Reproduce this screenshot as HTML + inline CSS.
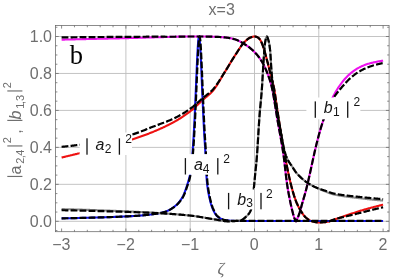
<!DOCTYPE html>
<html lang="en">
<head>
<meta charset="utf-8">
<title>x=3</title>
<style>
html,body{margin:0;padding:0;background:#ffffff;}
body{width:415px;height:279px;overflow:hidden;font-family:"Liberation Sans",sans-serif;}
svg{display:block;}
</style>
</head>
<body>
<svg width="415" height="279" viewBox="0 0 415 279">
<rect x="0" y="0" width="415" height="279" fill="#ffffff"/>
<defs><clipPath id="pc"><rect x="55.5" y="25.4" width="333.60" height="206.30"/></clipPath></defs>
<g stroke="#bdbdbd" stroke-width="0.9" fill="none">
<line x1="125.90" y1="25.4" x2="125.90" y2="231.7"/>
<line x1="190.20" y1="25.4" x2="190.20" y2="231.7"/>
<line x1="254.50" y1="25.4" x2="254.50" y2="231.7"/>
<line x1="318.80" y1="25.4" x2="318.80" y2="231.7"/>
<line x1="55.5" y1="221.30" x2="389.1" y2="221.30"/>
<line x1="55.5" y1="184.34" x2="389.1" y2="184.34"/>
<line x1="55.5" y1="147.38" x2="389.1" y2="147.38"/>
<line x1="55.5" y1="110.42" x2="389.1" y2="110.42"/>
<line x1="55.5" y1="73.46" x2="389.1" y2="73.46"/>
<line x1="55.5" y1="36.50" x2="389.1" y2="36.50"/>
</g>
<g clip-path="url(#pc)" fill="none" stroke-linejoin="round">
<path d="M61.60 157.54L62.31 157.37L63.03 157.20L63.74 157.03L64.45 156.86L65.16 156.69L65.88 156.52L66.59 156.35L67.30 156.18L68.02 156.01L68.73 155.84L69.44 155.67L70.15 155.50L70.87 155.33L71.58 155.15L72.29 154.98L73.01 154.81L73.72 154.64L74.43 154.46L75.14 154.29L75.86 154.12L76.57 153.94L77.28 153.77L78.00 153.59L78.71 153.42L79.42 153.25L79.60 153.20L80.13 153.07L80.85 152.90L81.56 152.72L82.27 152.55L82.99 152.37L83.70 152.20L84.41 152.02L85.12 151.85L85.84 151.67L86.55 151.50L87.26 151.32L87.98 151.15L88.69 150.97L89.40 150.80L90.11 150.62L90.83 150.45L91.54 150.27L92.25 150.09L92.97 149.92L93.68 149.74L94.39 149.56L95.10 149.39L95.82 149.21L96.53 149.03L97.24 148.85L97.96 148.67L98.67 148.49L99.38 148.31L100.09 148.13L100.81 147.95L101.52 147.77L102.23 147.59L102.95 147.40L103.66 147.22L104.37 147.04L105.08 146.85L105.80 146.67L106.51 146.48L106.61 146.46L107.22 146.30L107.94 146.11L108.65 145.93L109.36 145.74L110.07 145.56L110.79 145.37L111.50 145.19L112.21 145.00L112.93 144.82L113.64 144.63L114.35 144.45L115.06 144.26L115.78 144.08L116.49 143.89L117.20 143.70L117.92 143.52L118.63 143.33L119.34 143.14L120.05 142.95L120.77 142.76L121.48 142.56L122.19 142.37L122.91 142.17L123.62 141.97L124.33 141.77L125.04 141.57L125.76 141.37L126.47 141.16L127.18 140.96L127.90 140.75L128.61 140.54L129.32 140.32L130.03 140.11L130.75 139.89L131.46 139.67L131.62 139.62L132.17 139.45L132.89 139.22L133.60 138.99L134.31 138.76L135.02 138.53L135.74 138.29L136.45 138.05L137.16 137.82L137.88 137.57L138.59 137.33L139.30 137.08L140.01 136.83L140.73 136.58L141.44 136.33L142.15 136.07L142.87 135.81L143.58 135.55L144.29 135.29L145.00 135.02L145.72 134.75L146.43 134.48L147.14 134.21L147.86 133.94L148.57 133.66L149.28 133.38L149.99 133.10L150.71 132.81L151.42 132.53L152.13 132.24L152.85 131.95L153.29 131.76L153.56 131.65L154.27 131.36L154.98 131.06L155.70 130.76L156.41 130.46L157.12 130.15L157.84 129.84L158.55 129.53L159.26 129.22L159.97 128.90L160.69 128.58L161.40 128.26L162.11 127.94L162.83 127.61L163.54 127.27L164.25 126.94L164.96 126.60L165.68 126.26L166.39 125.91L167.10 125.56L167.82 125.21L168.53 124.85L169.24 124.49L169.95 124.12L170.67 123.75L171.38 123.38L172.09 123.00L172.81 122.62L173.52 122.23L174.23 121.84L174.94 121.44L175.03 121.40L175.66 121.04L176.37 120.63L177.08 120.22L177.80 119.79L178.51 119.37L179.22 118.93L179.93 118.49L180.65 118.04L181.36 117.58L182.07 117.12L182.79 116.65L183.50 116.17L184.21 115.69L184.92 115.20L185.64 114.70L186.35 114.20L187.06 113.68L187.78 113.16L188.49 112.64L189.20 112.10L189.91 111.56L190.20 111.34L190.63 111.01L191.34 110.44L192.05 109.85L192.77 109.24L193.48 108.62L194.19 107.99L194.90 107.34L195.62 106.68L196.33 106.02L197.04 105.35L197.76 104.67L198.47 104.00L199.18 103.32L199.89 102.64L200.61 101.97L201.32 101.30L202.03 100.64L202.75 99.99L203.06 99.70L203.46 99.34L204.17 98.72L204.88 98.12L205.60 97.53L206.31 96.94L207.02 96.35L207.74 95.76L208.45 95.15L209.16 94.53L209.87 93.89L210.59 93.22L211.30 92.52L212.01 91.78L212.70 91.02L212.73 90.99L213.44 90.15L214.15 89.24L214.86 88.28L215.58 87.26L216.29 86.20L217.00 85.10L217.72 83.96L218.43 82.80L219.14 81.61L219.85 80.40L220.57 79.19L221.28 77.96L221.99 76.74L222.71 75.52L223.42 74.32L224.13 73.13L224.85 71.96L225.18 71.43L225.56 70.82L226.27 69.67L226.98 68.50L227.70 67.32L228.41 66.14L229.12 64.95L229.84 63.77L230.55 62.59L231.26 61.41L231.97 60.24L232.69 59.09L233.40 57.96L234.11 56.84L234.83 55.75L235.21 55.16L235.54 54.67L236.25 53.58L236.96 52.48L237.68 51.37L238.39 50.26L239.10 49.15L239.82 48.07L240.53 47.01L241.24 45.99L241.95 45.00L242.67 44.07L243.38 43.20L244.09 42.39L244.81 41.65L245.18 41.30L245.52 40.99L246.23 40.36L246.94 39.75L247.66 39.17L248.37 38.65L249.08 38.18L249.80 37.78L250.51 37.47L250.64 37.42L251.22 37.22L251.93 36.98L252.65 36.77L253.36 36.61L254.07 36.52L254.50 36.50L254.79 36.51L255.50 36.61L256.21 36.81L256.92 37.08L257.64 37.39L257.71 37.42L258.35 37.82L259.06 38.49L259.78 39.33L260.29 40.01L260.49 40.31L261.20 41.63L261.91 43.26L262.60 45.00L262.63 45.07L263.34 47.08L264.05 49.35L264.77 51.82L265.48 54.44L266.19 57.14L266.90 59.87L267.62 62.55L267.62 62.56L268.33 65.26L269.04 68.04L269.76 70.87L270.47 73.74L271.18 76.60L271.41 77.53L271.89 79.40L272.61 82.09L273.32 84.95L273.92 87.69L274.03 88.26L274.75 92.35L275.46 97.05L276.17 102.09L276.88 107.15L277.60 111.94L277.65 112.27L278.31 116.47L279.02 120.99L279.74 125.50L280.45 129.96L281.16 134.36L281.87 138.68L282.59 142.90L283.30 146.99L284.01 150.93L284.14 151.63L284.73 154.75L285.44 158.54L286.15 162.26L286.86 165.92L287.58 169.48L288.29 172.93L289.00 176.25L289.72 179.43L290.43 182.45L291.09 185.08L291.14 185.29L291.85 188.00L292.57 190.61L293.28 193.11L293.99 195.48L294.71 197.68L295.42 199.71L295.97 201.16L296.13 201.55L296.84 203.23L297.56 204.81L298.27 206.28L298.98 207.66L299.70 208.95L300.41 210.17L300.80 210.80L301.12 211.33L301.83 212.46L302.55 213.55L303.26 214.58L303.97 215.53L304.69 216.38L305.40 217.11L305.62 217.31L306.11 217.73L306.82 218.31L307.54 218.86L308.25 219.37L308.96 219.84L309.68 220.27L310.39 220.64L311.10 220.96L311.81 221.21L312.11 221.30L312.53 221.41L313.24 221.60L313.95 221.78L314.67 221.94L315.38 222.09L316.09 222.21L316.80 222.31L317.52 222.37L318.23 222.41L318.48 222.41L318.94 222.41L319.66 222.40L320.37 222.38L321.08 222.35L321.79 222.32L322.51 222.28L323.22 222.24L323.93 222.19L324.65 222.14L325.36 222.08L325.87 222.04L326.07 222.02L326.78 221.93L327.50 221.80L328.21 221.63L328.92 221.44L329.64 221.22L330.35 220.98L331.06 220.72L331.77 220.45L332.49 220.18L333.20 219.90L333.91 219.63L334.63 219.36L335.34 219.11L335.97 218.90L336.05 218.87L336.76 218.64L337.48 218.40L338.19 218.17L338.90 217.93L339.62 217.69L340.33 217.45L341.04 217.20L341.75 216.96L342.47 216.72L343.18 216.47L343.89 216.23L344.61 215.98L345.32 215.74L346.03 215.50L346.74 215.26L347.46 215.02L348.17 214.78L348.57 214.65L348.88 214.54L349.60 214.31L350.31 214.07L351.02 213.83L351.73 213.60L352.45 213.36L353.16 213.12L353.87 212.89L354.59 212.65L355.30 212.42L356.01 212.18L356.72 211.95L357.44 211.72L358.15 211.50L358.86 211.27L359.58 211.05L360.29 210.83L361.00 210.61L361.11 210.58L361.71 210.40L362.43 210.19L363.14 209.98L363.85 209.78L364.57 209.57L365.28 209.37L365.99 209.17L366.70 208.97L367.42 208.77L368.13 208.58L368.84 208.38L369.56 208.19L370.27 207.99L370.98 207.80L371.69 207.61L372.41 207.42L373.12 207.23L373.71 207.07L373.83 207.04L374.55 206.85L375.26 206.66L375.97 206.47L376.68 206.29L377.40 206.10L378.11 205.92L378.82 205.74L379.54 205.56L380.25 205.38L380.96 205.20L381.67 205.02L382.39 204.84L383.10 204.67" stroke="#ee1111" stroke-width="2.1"/>
<path d="M61.60 218.34L61.89 218.34L62.18 218.33L62.48 218.33L62.77 218.32L63.06 218.32L63.35 218.31L63.64 218.31L63.94 218.30L64.23 218.30L64.52 218.29L64.81 218.29L65.10 218.28L65.40 218.28L65.69 218.27L65.98 218.27L66.27 218.26L66.56 218.26L66.86 218.25L67.15 218.25L67.44 218.24L67.73 218.23L68.02 218.23L68.32 218.22L68.61 218.22L68.90 218.21L69.19 218.21L69.48 218.20L69.78 218.19L70.07 218.19L70.36 218.18L70.65 218.18L70.94 218.17L71.24 218.16L71.53 218.16L71.82 218.15L72.11 218.15L72.40 218.14L72.70 218.13L72.99 218.13L73.28 218.12L73.57 218.11L73.86 218.11L74.16 218.10L74.45 218.10L74.74 218.09L75.03 218.08L75.32 218.08L75.62 218.07L75.91 218.06L76.20 218.06L76.49 218.05L76.78 218.04L77.08 218.04L77.37 218.03L77.66 218.02L77.95 218.02L78.24 218.01L78.54 218.00L78.83 217.99L79.12 217.99L79.41 217.98L79.70 217.97L80.00 217.97L80.29 217.96L80.58 217.95L80.87 217.95L81.16 217.94L81.46 217.93L81.75 217.92L82.04 217.92L82.33 217.91L82.62 217.90L82.92 217.89L83.21 217.89L83.50 217.88L83.79 217.87L84.08 217.86L84.38 217.86L84.67 217.85L84.96 217.84L85.25 217.83L85.54 217.83L85.84 217.82L86.13 217.81L86.42 217.80L86.71 217.80L87.00 217.79L87.30 217.78L87.59 217.77L87.88 217.77L88.17 217.76L88.46 217.75L88.76 217.74L89.05 217.73L89.34 217.73L89.63 217.72L89.92 217.71L90.22 217.70L90.51 217.69L90.80 217.69L91.09 217.68L91.38 217.67L91.68 217.66L91.97 217.65L92.26 217.65L92.55 217.64L92.84 217.63L93.14 217.62L93.43 217.61L93.72 217.60L93.75 217.60L94.01 217.60L94.30 217.59L94.60 217.58L94.89 217.57L95.18 217.56L95.47 217.55L95.76 217.55L96.06 217.54L96.35 217.53L96.64 217.52L96.93 217.51L97.22 217.50L97.52 217.50L97.81 217.49L98.10 217.48L98.39 217.47L98.68 217.46L98.98 217.45L99.27 217.44L99.56 217.43L99.85 217.42L100.14 217.42L100.44 217.41L100.73 217.40L101.02 217.39L101.31 217.38L101.60 217.37L101.90 217.36L102.19 217.35L102.48 217.34L102.77 217.33L103.06 217.32L103.36 217.31L103.65 217.30L103.94 217.30L104.23 217.29L104.52 217.28L104.82 217.27L105.11 217.26L105.40 217.25L105.69 217.24L105.98 217.23L106.28 217.22L106.57 217.21L106.86 217.20L107.15 217.19L107.44 217.18L107.74 217.17L108.03 217.16L108.32 217.15L108.61 217.14L108.90 217.13L109.20 217.12L109.49 217.11L109.78 217.10L110.07 217.09L110.36 217.07L110.66 217.06L110.95 217.05L111.24 217.04L111.53 217.03L111.82 217.02L112.12 217.01L112.41 217.00L112.70 216.99L112.99 216.98L113.28 216.97L113.58 216.96L113.87 216.94L114.16 216.93L114.45 216.92L114.74 216.91L115.04 216.90L115.33 216.89L115.62 216.88L115.91 216.87L116.20 216.85L116.50 216.84L116.79 216.83L117.08 216.82L117.37 216.81L117.66 216.79L117.96 216.78L118.25 216.77L118.54 216.76L118.83 216.75L119.12 216.73L119.42 216.72L119.71 216.71L120.00 216.70L120.29 216.68L120.58 216.67L120.88 216.66L121.17 216.65L121.46 216.63L121.75 216.62L122.04 216.61L122.34 216.60L122.63 216.58L122.92 216.57L123.21 216.56L123.50 216.54L123.80 216.53L124.09 216.52L124.38 216.50L124.67 216.49L124.96 216.48L125.25 216.46L125.55 216.45L125.84 216.44L126.13 216.42L126.42 216.41L126.54 216.40L126.71 216.39L127.01 216.38L127.30 216.37L127.59 216.35L127.88 216.34L128.17 216.32L128.47 216.31L128.76 216.29L129.05 216.28L129.34 216.26L129.63 216.25L129.92 216.23L130.22 216.22L130.51 216.20L130.80 216.18L131.09 216.17L131.38 216.15L131.68 216.13L131.97 216.12L132.26 216.10L132.55 216.08L132.84 216.07L133.13 216.05L133.43 216.03L133.72 216.01L134.01 216.00L134.30 215.98L134.59 215.96L134.88 215.94L135.18 215.92L135.47 215.90L135.76 215.88L136.05 215.86L136.34 215.84L136.63 215.82L136.93 215.80L137.22 215.78L137.51 215.76L137.80 215.74L138.09 215.72L138.38 215.70L138.67 215.68L138.97 215.65L139.26 215.63L139.55 215.61L139.84 215.59L140.03 215.57L140.13 215.56L140.42 215.54L140.71 215.52L141.01 215.49L141.30 215.47L141.59 215.44L141.88 215.42L142.17 215.39L142.46 215.37L142.75 215.34L143.05 215.31L143.34 215.29L143.63 215.26L143.92 215.23L144.21 215.21L144.50 215.18L144.79 215.15L145.08 215.12L145.37 215.09L145.67 215.06L145.96 215.03L146.25 215.00L146.54 214.97L146.83 214.94L147.12 214.91L147.41 214.88L147.70 214.84L147.99 214.81L148.28 214.78L148.57 214.74L148.86 214.71L149.16 214.68L149.45 214.64L149.74 214.61L150.03 214.57L150.32 214.54L150.61 214.50L150.90 214.46L151.19 214.43L151.48 214.39L151.77 214.35L152.06 214.31L152.35 214.27L152.64 214.23L152.93 214.20L153.22 214.16L153.51 214.11L153.80 214.07L154.09 214.03L154.38 213.99L154.67 213.95L154.95 213.91L154.96 213.91L155.25 213.86L155.54 213.82L155.83 213.78L156.12 213.73L156.41 213.69L156.70 213.64L156.99 213.59L157.28 213.55L157.57 213.50L157.86 213.45L158.15 213.40L158.44 213.35L158.73 213.30L159.02 213.25L159.31 213.19L159.60 213.14L159.89 213.08L160.18 213.02L160.46 212.96L160.75 212.90L161.04 212.84L161.33 212.78L161.62 212.71L161.91 212.65L162.20 212.58L162.49 212.51L162.78 212.44L163.07 212.36L163.36 212.29L163.64 212.21L163.93 212.13L164.22 212.05L164.51 211.97L164.80 211.88L164.82 211.88L165.09 211.79L165.38 211.70L165.66 211.60L165.95 211.50L166.24 211.39L166.53 211.27L166.82 211.15L167.11 211.03L167.40 210.90L167.68 210.77L167.97 210.63L168.26 210.49L168.55 210.35L168.84 210.20L169.13 210.04L169.41 209.88L169.70 209.72L169.99 209.56L170.28 209.39L170.57 209.21L170.85 209.04L171.14 208.85L171.43 208.67L171.72 208.48L172.01 208.29L172.29 208.10L172.58 207.90L172.87 207.70L173.16 207.49L173.44 207.28L173.73 207.07L174.02 206.86L174.31 206.65L174.60 206.43L174.72 206.33L174.88 206.20L175.17 205.98L175.46 205.74L175.75 205.50L176.03 205.25L176.32 204.99L176.61 204.72L176.90 204.44L177.19 204.16L177.47 203.87L177.76 203.57L178.05 203.26L178.34 202.94L178.62 202.61L178.91 202.27L179.20 201.92L179.49 201.56L179.78 201.19L180.06 200.81L180.35 200.42L180.64 200.02L180.93 199.61L181.22 199.18L181.50 198.75L181.79 198.30L182.08 197.84L182.20 197.65L182.37 197.36L182.66 196.85L182.94 196.30L183.23 195.71L183.52 195.08L183.81 194.43L184.10 193.74L184.38 193.03L184.67 192.28L184.96 191.52L185.25 190.73L185.54 189.92L185.83 189.09L186.12 188.24L186.40 187.38L186.69 186.50L186.98 185.61L187.15 185.08L187.27 184.71L187.56 183.83L187.85 182.94L188.14 182.04L188.43 181.10L188.71 180.13L189.00 179.10L189.29 177.99L189.58 176.80L189.87 175.51L190.16 174.10L190.45 172.57L190.65 171.40L190.74 170.87L191.03 168.78L191.32 166.25L191.61 163.35L191.90 160.14L192.19 156.69L192.48 153.05L192.77 149.29L192.95 146.89L193.06 145.40L193.35 140.86L193.56 137.36L193.64 136.00L193.93 130.88L194.17 126.50L194.22 125.47L194.51 119.73L194.77 114.29L194.80 113.71L195.09 107.38L195.38 100.83L195.38 100.82L195.67 94.03L195.97 87.11L195.99 86.49L196.26 80.13L196.55 73.18L196.60 71.95L196.84 66.42L197.13 59.93L197.21 58.27L197.42 53.97L197.71 48.55L197.82 46.85L198.01 44.07L198.30 40.33L198.43 39.20L198.59 38.18L198.88 36.76L199.04 36.50L199.17 36.68L199.46 38.07L199.65 39.31L199.76 40.18L200.05 43.93L200.26 47.24L200.34 48.50L200.63 54.01L200.88 59.02L200.93 60.11L201.22 66.73L201.49 73.07L201.51 73.65L201.80 80.73L202.10 87.86L202.10 87.92L202.39 94.90L202.68 101.79L202.71 102.47L202.98 108.44L203.27 114.85L203.33 116.04L203.56 120.93L203.86 126.71L203.94 128.29L204.15 132.16L204.44 137.29L204.55 139.14L204.74 141.99L205.03 146.38L205.17 148.61L205.33 151.47L205.62 157.68L205.91 164.40L206.21 170.94L206.50 176.61L206.79 180.64L206.80 180.73L207.09 183.65L207.38 186.16L207.68 188.31L207.97 190.20L208.27 191.89L208.41 192.66L208.56 193.47L208.86 194.98L209.15 196.42L209.45 197.80L209.74 199.12L210.04 200.37L210.33 201.56L210.63 202.68L210.92 203.73L211.22 204.72L211.51 205.64L211.81 206.49L212.10 207.28L212.24 207.62L212.40 208.00L212.69 208.71L212.99 209.39L213.29 210.06L213.58 210.70L213.88 211.32L214.17 211.91L214.47 212.49L214.76 213.03L215.06 213.54L215.36 214.03L215.65 214.48L215.95 214.91L216.24 215.29L216.54 215.65L216.84 215.96L217.13 216.24L217.32 216.40L217.43 216.49L217.72 216.71L218.02 216.94L218.32 217.15L218.61 217.36L218.91 217.57L219.20 217.76L219.50 217.95L219.80 218.14L220.09 218.31L220.39 218.48L220.69 218.64L220.98 218.80L221.28 218.95L221.57 219.09L221.87 219.22L222.17 219.34L222.46 219.46L222.76 219.57L223.06 219.67L223.35 219.76L223.65 219.84L223.94 219.92L224.24 219.98L224.54 220.04L224.83 220.09L224.89 220.10L225.13 220.13L225.43 220.18L225.72 220.22L226.02 220.26L226.31 220.30L226.61 220.33L226.91 220.37L227.20 220.41L227.50 220.44L227.79 220.48L228.09 220.51L228.39 220.54L228.68 220.58L228.98 220.61L229.27 220.64L229.57 220.66L229.87 220.69L230.16 220.72L230.46 220.74L230.75 220.76L231.05 220.78L231.34 220.80L231.64 220.82L231.94 220.84L232.23 220.86L232.53 220.87L232.82 220.88L233.12 220.89L233.41 220.90L233.71 220.91L234.00 220.92L234.30 220.92L234.60 220.93L234.89 220.93L235.05 220.93L235.19 220.93L235.48 220.93L235.78 220.93L236.07 220.93L236.37 220.93L236.66 220.93L236.96 220.93L237.25 220.93L237.55 220.93L237.84 220.93L238.14 220.93L238.43 220.93L238.73 220.93L239.02 220.93L239.31 220.93L239.61 220.93L239.90 220.93L240.20 220.93L240.49 220.93L240.79 220.93L241.08 220.93L241.38 220.93L241.67 220.93L241.97 220.93L242.26 220.93L242.55 220.93L242.85 220.93L243.14 220.93L243.44 220.93L243.73 220.93L244.02 220.93L244.32 220.93L244.61 220.93L244.91 220.93L245.20 220.93L245.49 220.93L245.79 220.93L246.08 220.93L246.38 220.93L246.67 220.93L246.96 220.93L247.26 220.93L247.55 220.93L247.84 220.93L248.14 220.93L248.43 220.93L248.72 220.93L249.02 220.93L249.31 220.93L249.60 220.93L249.90 220.93L250.19 220.93L250.48 220.93L250.78 220.93L251.07 220.93L251.36 220.93L251.66 220.93L251.95 220.93L252.24 220.93L252.54 220.93L252.83 220.93L253.12 220.93L253.42 220.93L253.71 220.93L254.00 220.93L254.29 220.93L254.59 220.93L254.88 220.93L255.17 220.93L255.47 220.93L255.76 220.93L256.05 220.93L256.34 220.93L256.64 220.93L256.93 220.93L257.22 220.93L257.52 220.93L257.81 220.93L258.10 220.93L258.39 220.93L258.69 220.93L258.98 220.93L259.27 220.93L259.56 220.93L259.86 220.93L260.15 220.93L260.44 220.93L260.73 220.93L261.03 220.93L261.32 220.93L261.61 220.93L261.90 220.93L262.20 220.93L262.49 220.93L262.78 220.93L263.07 220.93L263.37 220.93L263.66 220.93L263.95 220.93L264.24 220.93L264.54 220.93L264.83 220.93L265.12 220.93L265.41 220.93L265.71 220.93L266.00 220.93L266.29 220.93L266.58 220.93L266.87 220.93L267.17 220.93L267.46 220.93L267.75 220.93L268.04 220.93L268.34 220.93L268.63 220.93L268.92 220.93L269.21 220.93L269.50 220.93L269.80 220.93L270.09 220.93L270.38 220.93L270.67 220.93L270.97 220.93L271.26 220.93L271.55 220.93L271.84 220.93L272.13 220.93L272.43 220.93L272.72 220.93L273.01 220.93L273.30 220.93L273.59 220.93L273.89 220.93L274.18 220.93L274.47 220.93L274.76 220.93L275.06 220.93L275.35 220.93L275.64 220.93L275.93 220.93L276.22 220.93L276.52 220.93L276.81 220.93L277.10 220.93L277.39 220.93L277.68 220.93L277.98 220.93L278.27 220.93L278.56 220.93L278.85 220.93L279.14 220.93L279.44 220.93L279.73 220.93L280.02 220.93L280.31 220.93L280.60 220.93L280.90 220.93L281.19 220.93L281.48 220.93L281.77 220.93L282.06 220.93L282.36 220.93L282.65 220.93L282.94 220.93L283.23 220.93L283.52 220.93L283.82 220.93L284.11 220.93L284.40 220.93L284.69 220.93L284.99 220.93L285.28 220.93L285.57 220.93L285.86 220.93L286.15 220.93L286.45 220.93L286.65 220.93L286.74 220.93L287.03 220.93L287.32 220.93L287.61 220.93L287.91 220.93L288.20 220.93L288.49 220.93L288.78 220.93L289.07 220.93L289.37 220.93L289.66 220.93L289.95 220.93L290.24 220.93L290.53 220.93L290.83 220.93L291.12 220.93L291.41 220.93L291.70 220.93L291.99 220.93L292.29 220.93L292.58 220.93L292.87 220.93L293.16 220.93L293.45 220.93L293.75 220.93L294.04 220.93L294.33 220.93L294.62 220.93L294.91 220.93L295.21 220.93L295.50 220.93L295.79 220.93L296.08 220.93L296.37 220.93L296.67 220.93L296.96 220.93L297.25 220.93L297.54 220.93L297.83 220.93L298.13 220.93L298.42 220.93L298.71 220.93L299.00 220.93L299.29 220.93L299.59 220.93L299.88 220.93L300.17 220.93L300.46 220.93L300.75 220.93L301.05 220.93L301.34 220.93L301.63 220.93L301.92 220.93L302.21 220.93L302.51 220.93L302.80 220.93L303.09 220.93L303.38 220.93L303.67 220.93L303.97 220.93L304.26 220.93L304.55 220.93L304.84 220.93L305.13 220.93L305.43 220.93L305.72 220.93L306.01 220.93L306.30 220.93L306.59 220.93L306.89 220.93L307.18 220.93L307.47 220.93L307.76 220.93L308.05 220.93L308.35 220.93L308.64 220.93L308.93 220.93L309.22 220.93L309.51 220.93L309.81 220.93L310.10 220.93L310.39 220.93L310.68 220.93L310.97 220.93L311.27 220.93L311.56 220.93L311.85 220.93L312.14 220.93L312.43 220.93L312.73 220.93L313.02 220.93L313.31 220.93L313.60 220.93L313.89 220.93L314.19 220.93L314.48 220.93L314.77 220.93L315.06 220.93L315.35 220.93L315.65 220.93L315.94 220.93L316.23 220.93L316.52 220.93L316.81 220.93L317.11 220.93L317.40 220.93L317.69 220.93L317.98 220.93L318.27 220.93L318.57 220.93L318.86 220.93L319.15 220.93L319.44 220.93L319.73 220.93L320.03 220.93L320.32 220.93L320.61 220.93L320.90 220.93L321.19 220.93L321.49 220.93L321.78 220.93L322.07 220.93L322.36 220.93L322.65 220.93L322.95 220.93L323.24 220.93L323.53 220.93L323.82 220.93L324.11 220.93L324.41 220.93L324.70 220.93L324.99 220.93L325.28 220.93L325.57 220.93L325.87 220.93L326.16 220.93L326.45 220.93L326.74 220.93L327.03 220.93L327.33 220.93L327.62 220.93L327.91 220.93L328.20 220.93L328.49 220.93L328.79 220.93L329.08 220.93L329.37 220.93L329.66 220.93L329.95 220.93L330.25 220.93L330.54 220.93L330.83 220.93L331.12 220.93L331.41 220.93L331.71 220.93L332.00 220.93L332.29 220.93L332.58 220.93L332.87 220.93L333.17 220.93L333.46 220.93L333.75 220.93L334.04 220.93L334.33 220.93L334.63 220.93L334.92 220.93L335.21 220.93L335.50 220.93L335.79 220.93L336.09 220.93L336.38 220.93L336.67 220.93L336.96 220.93L337.25 220.93L337.55 220.93L337.84 220.93L338.13 220.93L338.42 220.93L338.71 220.93L339.01 220.93L339.30 220.93L339.59 220.93L339.88 220.93L340.17 220.93L340.47 220.93L340.76 220.93L341.05 220.93L341.34 220.93L341.63 220.93L341.93 220.93L342.22 220.93L342.51 220.93L342.80 220.93L343.10 220.93L343.39 220.93L343.68 220.93L343.97 220.93L344.26 220.93L344.56 220.93L344.85 220.93L345.14 220.93L345.43 220.93L345.72 220.93L346.02 220.93L346.31 220.93L346.60 220.93L346.89 220.93L347.18 220.93L347.48 220.93L347.77 220.93L348.06 220.93L348.35 220.93L348.64 220.93L348.94 220.93L349.23 220.93L349.52 220.93L349.81 220.93L350.10 220.93L350.40 220.93L350.69 220.93L350.98 220.93L351.27 220.93L351.56 220.93L351.86 220.93L352.15 220.93L352.44 220.93L352.73 220.93L353.02 220.93L353.32 220.93L353.61 220.93L353.90 220.93L354.19 220.93L354.48 220.93L354.78 220.93L355.07 220.93L355.36 220.93L355.65 220.93L355.94 220.93L356.24 220.93L356.53 220.93L356.82 220.93L357.11 220.93L357.40 220.93L357.70 220.93L357.99 220.93L358.28 220.93L358.57 220.93L358.86 220.93L359.16 220.93L359.45 220.93L359.74 220.93L360.03 220.93L360.32 220.93L360.62 220.93L360.91 220.93L361.20 220.93L361.49 220.93L361.78 220.93L362.08 220.93L362.37 220.93L362.66 220.93L362.95 220.93L363.24 220.93L363.54 220.93L363.83 220.93L364.12 220.93L364.41 220.93L364.70 220.93L365.00 220.93L365.29 220.93L365.58 220.93L365.87 220.93L366.16 220.93L366.46 220.93L366.75 220.93L367.04 220.93L367.33 220.93L367.62 220.93L367.92 220.93L368.21 220.93L368.50 220.93L368.79 220.93L369.08 220.93L369.38 220.93L369.67 220.93L369.96 220.93L370.25 220.93L370.54 220.93L370.84 220.93L371.13 220.93L371.42 220.93L371.71 220.93L372.00 220.93L372.30 220.93L372.59 220.93L372.88 220.93L373.17 220.93L373.46 220.93L373.76 220.93L374.05 220.93L374.34 220.93L374.63 220.93L374.92 220.93L375.22 220.93L375.51 220.93L375.80 220.93L376.09 220.93L376.38 220.93L376.68 220.93L376.97 220.93L377.26 220.93L377.55 220.93L377.84 220.93L378.14 220.93L378.43 220.93L378.72 220.93L379.01 220.93L379.30 220.93L379.60 220.93L379.89 220.93L380.18 220.93L380.47 220.93L380.76 220.93L381.06 220.93L381.35 220.93L381.64 220.93L381.93 220.93L382.22 220.93L382.52 220.93L382.81 220.93L383.10 220.93" stroke="#1111ee" stroke-width="2.1"/>
<path d="M61.60 39.64L62.31 39.63L63.02 39.61L63.74 39.59L64.45 39.58L65.16 39.56L65.87 39.54L66.59 39.53L67.30 39.51L68.01 39.49L68.72 39.48L69.44 39.46L70.15 39.45L70.86 39.43L71.57 39.41L72.29 39.40L73.00 39.38L73.71 39.36L74.42 39.35L75.14 39.33L75.85 39.31L76.56 39.30L77.27 39.28L77.99 39.26L78.70 39.25L79.41 39.23L80.12 39.22L80.84 39.20L81.55 39.18L82.26 39.17L82.97 39.15L83.69 39.13L84.40 39.12L85.11 39.10L85.82 39.08L86.54 39.07L87.25 39.05L87.96 39.04L88.67 39.02L89.39 39.00L90.10 38.99L90.81 38.97L91.52 38.95L92.24 38.94L92.95 38.92L93.66 38.90L93.75 38.90L94.37 38.89L95.09 38.87L95.80 38.86L96.51 38.84L97.22 38.82L97.94 38.81L98.65 38.79L99.36 38.78L100.07 38.76L100.79 38.74L101.50 38.73L102.21 38.71L102.92 38.70L103.64 38.68L104.35 38.66L105.06 38.65L105.77 38.63L106.48 38.62L107.20 38.60L107.91 38.59L108.62 38.57L109.33 38.55L110.05 38.54L110.76 38.52L111.47 38.51L112.18 38.49L112.90 38.47L113.61 38.46L114.32 38.44L115.03 38.43L115.75 38.41L116.46 38.39L117.17 38.38L117.88 38.36L118.60 38.34L119.31 38.33L120.02 38.31L120.73 38.29L121.45 38.27L122.16 38.26L122.87 38.24L123.58 38.22L124.30 38.20L125.01 38.19L125.72 38.17L125.90 38.16L126.43 38.15L127.15 38.13L127.86 38.11L128.57 38.09L129.28 38.07L130.00 38.05L130.71 38.03L131.42 38.01L132.13 37.99L132.85 37.97L133.56 37.95L134.27 37.93L134.98 37.91L135.70 37.89L136.41 37.87L137.12 37.85L137.83 37.83L138.55 37.80L139.26 37.78L139.97 37.76L140.68 37.74L141.40 37.72L142.11 37.70L142.82 37.68L143.53 37.65L144.25 37.63L144.96 37.61L145.67 37.59L146.38 37.57L147.10 37.55L147.81 37.53L148.52 37.50L149.23 37.48L149.94 37.46L150.66 37.44L151.37 37.42L152.08 37.40L152.79 37.38L153.51 37.36L154.22 37.34L154.93 37.32L155.64 37.30L156.36 37.28L157.07 37.26L157.78 37.25L158.05 37.24L158.49 37.23L159.21 37.21L159.92 37.19L160.63 37.17L161.34 37.15L162.06 37.13L162.77 37.11L163.48 37.09L164.19 37.07L164.91 37.04L165.62 37.02L166.33 37.00L167.04 36.98L167.76 36.96L168.47 36.94L169.18 36.91L169.89 36.89L170.61 36.87L171.32 36.85L172.03 36.83L172.74 36.81L173.46 36.79L174.17 36.77L174.88 36.75L175.59 36.73L176.31 36.71L177.02 36.69L177.73 36.67L178.44 36.65L179.16 36.64L179.87 36.62L180.58 36.61L181.29 36.59L182.01 36.58L182.72 36.57L183.43 36.56L184.14 36.55L184.86 36.54L185.57 36.53L186.28 36.52L186.99 36.51L187.71 36.51L188.42 36.50L189.13 36.50L189.84 36.50L190.20 36.50L190.56 36.50L191.27 36.50L191.98 36.50L192.69 36.50L193.41 36.50L194.12 36.50L194.83 36.50L195.54 36.50L196.25 36.50L196.97 36.50L197.68 36.50L198.39 36.50L199.10 36.50L199.82 36.50L200.53 36.50L201.24 36.50L201.95 36.50L202.67 36.50L203.06 36.50L203.38 36.50L204.09 36.50L204.80 36.51L205.52 36.52L206.23 36.53L206.94 36.54L207.65 36.55L208.37 36.57L209.08 36.59L209.79 36.60L210.50 36.62L211.22 36.64L211.93 36.66L212.64 36.68L212.70 36.68L213.35 36.70L214.07 36.73L214.78 36.75L215.49 36.78L216.20 36.82L216.92 36.85L217.63 36.89L218.34 36.93L219.05 36.97L219.77 37.01L220.48 37.06L221.19 37.11L221.90 37.16L222.62 37.22L223.33 37.28L224.04 37.34L224.75 37.40L224.99 37.42L225.47 37.47L226.18 37.55L226.89 37.64L227.60 37.74L228.32 37.85L229.03 37.98L229.74 38.11L230.45 38.25L231.17 38.40L231.88 38.56L232.59 38.73L233.30 38.90L234.02 39.09L234.70 39.27L234.73 39.28L235.44 39.50L236.15 39.74L236.87 40.02L237.58 40.32L238.29 40.65L239.00 40.99L239.71 41.36L240.43 41.75L241.14 42.14L241.85 42.55L242.56 42.97L243.28 43.40L243.99 43.83L244.40 44.08L244.70 44.26L245.41 44.70L246.13 45.16L246.84 45.63L247.55 46.13L248.26 46.64L248.98 47.17L249.69 47.71L250.40 48.28L251.11 48.87L251.83 49.48L252.54 50.11L253.25 50.77L253.96 51.45L253.99 51.47L254.68 52.16L255.39 52.90L256.10 53.69L256.81 54.51L257.53 55.38L258.24 56.28L258.95 57.23L259.66 58.21L260.38 59.25L261.09 60.32L261.80 61.45L262.09 61.91L262.51 62.63L263.23 63.91L263.94 65.31L264.65 66.79L265.36 68.36L266.08 70.01L266.79 71.73L267.30 73.00L267.50 73.52L268.21 75.36L268.93 77.31L269.64 79.40L270.35 81.67L271.06 84.16L271.41 85.47L271.78 86.95L272.49 90.23L273.20 93.94L273.91 97.98L274.63 102.26L275.34 106.69L276.05 111.17L276.76 115.62L277.48 119.93L277.91 122.43L278.19 124.03L278.90 127.95L279.61 131.78L280.33 135.61L281.04 139.51L281.75 143.57L282.46 147.86L283.17 152.47L283.24 152.92L283.89 157.71L284.60 163.68L285.31 169.96L286.02 176.14L286.74 181.80L287.10 184.34L287.45 186.59L288.16 190.84L288.87 194.75L289.48 197.90L289.59 198.46L290.30 202.01L291.01 205.36L291.72 208.46L291.90 209.20L292.44 211.35L293.15 214.12L293.86 216.58L294.40 218.10L294.57 218.54L295.29 220.10L296.00 221.30L296.71 219.99L297.43 218.47L298.14 216.77L298.85 214.91L299.19 214.00L299.57 212.88L300.28 210.50L301.00 207.89L301.71 205.22L302.40 202.71L302.42 202.64L303.14 200.19L303.85 197.78L304.57 195.35L305.28 192.82L305.60 191.65L305.99 190.16L306.71 187.36L307.42 184.46L308.14 181.46L308.17 181.32L308.85 178.34L309.56 175.10L310.28 171.80L310.74 169.67L310.99 168.53L311.71 165.23L312.42 161.92L313.13 158.66L313.32 157.85L313.85 155.47L314.56 152.31L315.28 149.21L315.89 146.64L315.99 146.21L316.70 143.29L317.42 140.45L318.13 137.70L318.46 136.46L318.85 135.04L319.56 132.46L320.27 129.97L320.99 127.55L321.03 127.41L321.70 125.22L322.42 122.96L323.13 120.78L323.60 119.36L323.84 118.66L324.56 116.61L325.27 114.63L325.98 112.71L326.18 112.21L326.70 110.85L327.41 109.05L328.13 107.31L328.75 105.84L328.84 105.62L329.55 103.99L330.27 102.40L330.98 100.87L331.32 100.16L331.70 99.38L332.41 97.94L333.12 96.55L333.84 95.19L333.89 95.10L334.55 93.88L335.27 92.61L335.98 91.38L336.46 90.57L336.69 90.19L337.41 89.03L338.12 87.91L338.84 86.82L339.04 86.53L339.55 85.77L340.26 84.75L340.98 83.77L341.61 82.93L341.69 82.81L342.41 81.89L343.12 81.00L343.83 80.14L344.18 79.73L344.55 79.30L345.26 78.50L345.98 77.72L346.69 76.97L346.75 76.90L347.40 76.24L348.12 75.54L348.83 74.87L349.32 74.42L349.54 74.22L350.26 73.59L350.97 72.99L351.69 72.41L351.90 72.24L352.40 71.85L353.11 71.31L353.83 70.79L354.47 70.35L354.54 70.30L355.26 69.82L355.97 69.36L356.68 68.92L357.04 68.70L357.40 68.49L358.11 68.09L358.83 67.69L359.54 67.32L359.61 67.28L360.25 66.96L360.97 66.62L361.68 66.28L362.18 66.06L362.40 65.97L363.11 65.66L363.82 65.37L364.54 65.09L364.76 65.01L365.25 64.83L365.97 64.57L366.68 64.33L367.33 64.11L367.39 64.09L368.11 63.87L368.82 63.65L369.54 63.44L369.90 63.34L370.25 63.25L370.96 63.05L371.68 62.87L372.39 62.70L372.47 62.68L373.10 62.53L373.82 62.36L374.53 62.21L375.04 62.10L375.25 62.05L375.96 61.91L376.67 61.77L377.39 61.63L377.62 61.59L378.10 61.49L378.82 61.36L379.53 61.24L380.19 61.12L380.24 61.11L380.96 60.99L381.67 60.87L382.39 60.76L382.76 60.70L383.10 60.64" stroke="#ee11ee" stroke-width="2.1"/>
<path d="M61.60 209.10L61.89 209.11L62.18 209.12L62.48 209.12L62.77 209.13L63.06 209.14L63.35 209.14L63.64 209.15L63.94 209.16L64.23 209.17L64.52 209.17L64.81 209.18L65.10 209.19L65.40 209.19L65.69 209.20L65.98 209.21L66.27 209.22L66.56 209.22L66.86 209.23L67.15 209.24L67.44 209.25L67.73 209.25L68.02 209.26L68.32 209.27L68.61 209.28L68.90 209.28L69.19 209.29L69.48 209.30L69.78 209.31L70.07 209.31L70.36 209.32L70.65 209.33L70.94 209.34L71.24 209.35L71.53 209.35L71.82 209.36L72.11 209.37L72.40 209.38L72.70 209.39L72.99 209.39L73.28 209.40L73.57 209.41L73.86 209.42L74.16 209.43L74.45 209.44L74.74 209.44L75.03 209.45L75.32 209.46L75.62 209.47L75.91 209.48L76.20 209.49L76.49 209.49L76.78 209.50L77.08 209.51L77.37 209.52L77.66 209.53L77.95 209.54L78.24 209.55L78.54 209.56L78.83 209.56L79.12 209.57L79.41 209.58L79.70 209.59L80.00 209.60L80.29 209.61L80.58 209.62L80.87 209.63L81.16 209.64L81.46 209.65L81.75 209.65L82.04 209.66L82.33 209.67L82.62 209.68L82.92 209.69L83.21 209.70L83.50 209.71L83.79 209.72L84.08 209.73L84.38 209.74L84.67 209.75L84.96 209.76L85.25 209.77L85.54 209.78L85.84 209.79L86.13 209.80L86.42 209.81L86.71 209.82L87.00 209.82L87.30 209.83L87.59 209.84L87.88 209.85L88.17 209.86L88.46 209.87L88.76 209.88L89.05 209.89L89.34 209.90L89.63 209.91L89.92 209.92L90.22 209.93L90.51 209.94L90.80 209.95L91.09 209.96L91.38 209.97L91.68 209.98L91.97 209.99L92.26 210.00L92.55 210.01L92.84 210.02L93.14 210.03L93.43 210.05L93.72 210.06L94.01 210.07L94.30 210.08L94.60 210.09L94.89 210.10L95.18 210.11L95.47 210.12L95.76 210.13L96.06 210.14L96.35 210.15L96.64 210.16L96.93 210.17L97.22 210.18L97.52 210.19L97.81 210.20L98.10 210.21L98.39 210.22L98.68 210.23L98.98 210.25L99.27 210.26L99.56 210.27L99.85 210.28L100.14 210.29L100.44 210.30L100.73 210.31L101.02 210.32L101.31 210.33L101.60 210.34L101.90 210.35L102.19 210.37L102.48 210.38L102.77 210.39L103.07 210.40L103.36 210.41L103.65 210.42L103.94 210.43L104.23 210.44L104.53 210.45L104.82 210.47L105.11 210.48L105.40 210.49L105.69 210.50L105.99 210.51L106.28 210.52L106.57 210.53L106.86 210.54L107.15 210.56L107.45 210.57L107.74 210.58L108.03 210.59L108.32 210.60L108.61 210.61L108.91 210.62L109.20 210.64L109.49 210.65L109.78 210.66L110.07 210.67L110.37 210.68L110.66 210.69L110.95 210.71L111.24 210.72L111.53 210.73L111.83 210.74L112.12 210.75L112.41 210.76L112.70 210.78L112.99 210.79L113.29 210.80L113.58 210.81L113.87 210.82L114.16 210.83L114.45 210.85L114.75 210.86L115.04 210.87L115.33 210.88L115.62 210.89L115.91 210.91L116.21 210.92L116.50 210.93L116.79 210.94L117.08 210.95L117.37 210.97L117.67 210.98L117.96 210.99L118.25 211.00L118.54 211.01L118.83 211.03L119.13 211.04L119.42 211.05L119.71 211.06L120.00 211.07L120.29 211.09L120.59 211.10L120.88 211.11L121.17 211.12L121.46 211.13L121.75 211.15L122.05 211.16L122.34 211.17L122.63 211.18L122.92 211.20L123.21 211.21L123.51 211.22L123.80 211.23L124.09 211.24L124.38 211.26L124.67 211.27L124.97 211.28L125.26 211.29L125.55 211.31L125.84 211.32L125.90 211.32L126.13 211.33L126.43 211.34L126.72 211.36L127.01 211.37L127.30 211.38L127.59 211.39L127.89 211.41L128.18 211.42L128.47 211.43L128.76 211.44L129.05 211.46L129.35 211.47L129.64 211.48L129.93 211.50L130.22 211.51L130.51 211.52L130.81 211.53L131.10 211.55L131.39 211.56L131.68 211.57L131.97 211.59L132.27 211.60L132.56 211.61L132.85 211.63L133.14 211.64L133.43 211.65L133.73 211.67L134.02 211.68L134.31 211.69L134.60 211.71L134.89 211.72L135.19 211.74L135.48 211.75L135.77 211.76L136.06 211.78L136.35 211.79L136.65 211.81L136.94 211.82L137.23 211.83L137.52 211.85L137.81 211.86L138.11 211.88L138.40 211.89L138.69 211.90L138.98 211.92L139.27 211.93L139.57 211.95L139.86 211.96L140.15 211.98L140.44 211.99L140.73 212.01L141.03 212.02L141.32 212.04L141.61 212.05L141.90 212.07L142.19 212.08L142.49 212.10L142.78 212.11L143.07 212.13L143.36 212.14L143.65 212.16L143.95 212.17L144.24 212.19L144.53 212.20L144.82 212.22L145.11 212.23L145.41 212.25L145.70 212.26L145.99 212.28L146.28 212.30L146.57 212.31L146.87 212.33L147.16 212.34L147.45 212.36L147.74 212.38L148.03 212.39L148.33 212.41L148.62 212.42L148.91 212.44L149.20 212.46L149.49 212.47L149.79 212.49L150.08 212.51L150.37 212.52L150.66 212.54L150.95 212.56L151.25 212.57L151.54 212.59L151.83 212.61L152.12 212.62L152.41 212.64L152.71 212.66L153.00 212.68L153.29 212.69L153.58 212.71L153.87 212.73L154.17 212.75L154.46 212.76L154.75 212.78L155.04 212.80L155.33 212.82L155.63 212.83L155.92 212.85L156.21 212.87L156.50 212.89L156.79 212.91L157.09 212.92L157.38 212.94L157.67 212.96L157.96 212.98L158.05 212.98L158.25 213.00L158.55 213.02L158.84 213.03L159.13 213.05L159.42 213.07L159.71 213.09L160.01 213.11L160.30 213.13L160.59 213.15L160.88 213.16L161.17 213.18L161.47 213.20L161.76 213.22L162.05 213.24L162.34 213.26L162.63 213.28L162.93 213.30L163.22 213.32L163.51 213.34L163.80 213.36L164.09 213.38L164.39 213.40L164.68 213.41L164.97 213.43L165.26 213.45L165.55 213.47L165.85 213.49L166.14 213.51L166.43 213.53L166.72 213.55L167.01 213.57L167.31 213.60L167.60 213.62L167.89 213.64L168.18 213.66L168.47 213.68L168.77 213.70L169.06 213.72L169.35 213.74L169.64 213.76L169.93 213.78L170.23 213.80L170.52 213.82L170.81 213.85L171.10 213.87L171.39 213.89L171.69 213.91L171.98 213.93L172.27 213.96L172.56 213.98L172.85 214.00L173.15 214.02L173.44 214.04L173.73 214.07L174.02 214.09L174.31 214.11L174.61 214.14L174.90 214.16L175.19 214.18L175.48 214.20L175.77 214.23L176.07 214.25L176.36 214.28L176.65 214.30L176.94 214.32L177.23 214.35L177.53 214.37L177.82 214.40L178.11 214.42L178.40 214.45L178.69 214.47L178.99 214.49L179.28 214.52L179.57 214.54L179.86 214.57L180.15 214.60L180.45 214.62L180.74 214.65L181.03 214.67L181.32 214.70L181.61 214.73L181.91 214.75L182.20 214.78L182.49 214.80L182.78 214.83L183.08 214.86L183.37 214.89L183.66 214.91L183.95 214.94L184.24 214.97L184.54 215.00L184.83 215.02L185.12 215.05L185.41 215.08L185.70 215.11L186.00 215.14L186.29 215.17L186.58 215.20L186.87 215.22L187.16 215.25L187.46 215.28L187.75 215.31L188.04 215.34L188.33 215.37L188.62 215.40L188.92 215.43L189.21 215.47L189.50 215.50L189.79 215.53L190.08 215.56L190.20 215.57L190.38 215.59L190.67 215.62L190.96 215.66L191.25 215.69L191.54 215.72L191.84 215.76L192.13 215.79L192.42 215.83L192.71 215.87L193.00 215.90L193.30 215.94L193.59 215.98L193.88 216.02L194.17 216.06L194.46 216.10L194.76 216.14L195.05 216.18L195.34 216.22L195.63 216.26L195.92 216.31L196.22 216.35L196.51 216.39L196.80 216.44L197.09 216.48L197.38 216.53L197.68 216.57L197.97 216.62L198.26 216.66L198.55 216.71L198.84 216.76L199.14 216.80L199.43 216.85L199.72 216.90L200.01 216.94L200.30 216.99L200.60 217.04L200.89 217.09L201.18 217.14L201.47 217.19L201.76 217.24L202.06 217.29L202.35 217.33L202.64 217.38L202.93 217.43L203.22 217.48L203.52 217.53L203.81 217.58L204.10 217.63L204.39 217.68L204.68 217.73L204.98 217.79L205.27 217.84L205.56 217.89L205.85 217.94L206.14 217.99L206.44 218.04L206.73 218.09L207.02 218.14L207.31 218.19L207.60 218.24L207.90 218.29L208.19 218.34L208.48 218.39L208.77 218.44L209.06 218.49L209.36 218.54L209.65 218.59L209.94 218.64L210.23 218.69L210.52 218.73L210.82 218.78L211.11 218.83L211.40 218.88L211.69 218.93L211.98 218.98L212.28 219.02L212.57 219.07L212.86 219.12L213.15 219.16L213.44 219.21L213.74 219.26L214.03 219.30L214.32 219.35L214.61 219.39L214.90 219.43L215.02 219.45L215.20 219.48L215.49 219.52L215.78 219.57L216.07 219.62L216.36 219.67L216.66 219.72L216.95 219.78L217.24 219.83L217.53 219.88L217.82 219.94L218.12 220.00L218.41 220.05L218.70 220.11L218.99 220.16L219.28 220.22L219.58 220.28L219.87 220.33L220.16 220.39L220.45 220.45L220.74 220.50L221.04 220.56L221.33 220.61L221.62 220.66L221.91 220.71L222.20 220.76L222.50 220.81L222.79 220.86L223.08 220.90L223.37 220.95L223.66 220.99L223.96 221.03L224.25 221.07L224.54 221.10L224.83 221.14L225.12 221.17L225.42 221.19L225.71 221.22L226.00 221.24L226.29 221.26L226.58 221.27L226.88 221.29L227.17 221.29L227.46 221.30L227.69 221.30L227.75 221.30L228.04 221.30L228.34 221.30L228.63 221.30L228.92 221.29L229.21 221.29L229.50 221.28L229.80 221.28L230.09 221.27L230.38 221.27L230.67 221.26L230.96 221.25L231.26 221.24L231.55 221.23L231.84 221.22L232.13 221.20L232.42 221.19L232.72 221.18L233.01 221.16L233.30 221.15L233.59 221.13L233.88 221.11L234.18 221.10L234.47 221.08L234.76 221.06L235.05 221.04L235.34 221.02L235.64 220.99L235.93 220.97L236.22 220.95L236.51 220.92L236.80 220.90L237.10 220.87L237.39 220.84L237.68 220.81L237.97 220.79L238.26 220.76L238.56 220.72L238.85 220.69L239.14 220.66L239.43 220.63L239.72 220.59L240.00 220.56L240.02 220.56L240.31 220.51L240.60 220.44L240.89 220.36L241.18 220.25L241.48 220.13L241.77 219.98L242.06 219.83L242.35 219.66L242.64 219.47L242.94 219.27L243.23 219.06L243.52 218.84L243.81 218.61L244.10 218.37L244.40 218.13L244.69 217.87L244.98 217.62L245.27 217.35L245.56 217.09L245.86 216.82L246.15 216.55L246.30 216.40L246.44 216.27L246.73 216.00L247.02 215.73L247.32 215.45L247.61 215.16L247.90 214.85L248.19 214.53L248.48 214.18L248.78 213.81L249.07 213.40L249.36 212.96L249.65 212.49L249.94 211.97L250.24 211.40L250.53 210.78L250.82 210.11L251.11 209.38L251.28 208.92L251.40 208.54L251.70 207.20L251.99 205.37L252.28 203.13L252.57 200.58L252.86 197.82L253.16 194.95L253.45 192.07L253.74 189.26L253.79 188.78L254.03 186.44L254.32 183.37L254.62 180.18L254.91 177.00L255.10 175.01L255.20 173.96L255.49 171.11L255.78 168.35L256.08 165.54L256.37 162.57L256.66 159.32L256.69 159.02L256.95 155.65L257.24 151.54L257.54 147.09L257.83 142.41L258.12 137.59L258.41 132.74L258.70 127.96L259.00 123.34L259.29 119.00L259.58 115.04L259.58 115.02L259.87 111.45L260.16 108.17L260.46 105.06L260.75 102.03L261.04 98.95L261.33 95.73L261.62 92.24L261.80 90.00L261.92 88.35L262.21 83.88L262.50 78.98L262.79 73.85L263.09 68.73L263.38 63.82L263.67 59.35L263.80 57.57L263.96 55.36L264.25 51.38L264.55 47.66L264.84 44.55L265.11 42.51L265.13 42.40L265.42 40.80L265.71 39.35L266.01 38.10L266.30 37.16L266.59 36.61L266.78 36.50L266.88 36.52L267.17 36.79L267.47 37.34L267.76 38.10L268.05 39.01L268.34 40.02L268.63 41.07L268.65 41.12L268.93 42.25L269.22 43.71L269.51 45.47L269.80 47.55L270.09 49.94L270.10 49.99L270.39 53.34L270.68 57.99L270.97 63.10L271.26 67.88L271.41 69.95L271.55 71.72L271.85 75.24L272.14 78.57L272.43 81.68L272.72 84.54L273.01 87.12L273.08 87.69L273.31 89.45L273.60 91.65L273.89 93.74L274.18 95.73L274.47 97.62L274.77 99.44L275.06 101.19L275.35 102.89L275.64 104.53L275.93 106.14L276.23 107.73L276.52 109.30L276.81 110.87L277.10 112.44L277.39 114.04L277.58 115.10L277.69 115.66L277.98 117.26L278.27 118.81L278.56 120.34L278.85 121.85L279.15 123.34L279.44 124.81L279.73 126.29L280.02 127.77L280.31 129.25L280.61 130.76L280.90 132.28L280.99 132.78L281.19 133.85L281.48 135.48L281.77 137.15L282.07 138.83L282.36 140.52L282.65 142.17L282.94 143.77L283.23 145.29L283.53 146.71L283.76 147.75L283.82 148.01L284.11 149.23L284.40 150.40L284.69 151.50L284.99 152.55L285.28 153.53L285.57 154.43L285.69 154.77L285.86 155.27L286.15 156.06L286.45 156.81L286.74 157.53L287.03 158.20L287.32 158.84L287.61 159.45L287.91 160.02L288.00 160.21L288.20 160.57L288.49 161.09L288.78 161.59L289.07 162.07L289.37 162.53L289.66 162.97L289.95 163.40L290.24 163.83L290.53 164.24L290.83 164.65L291.12 165.07L291.41 165.48L291.70 165.90L291.99 166.32L292.18 166.60L292.29 166.76L292.58 167.20L292.87 167.66L293.16 168.11L293.45 168.57L293.75 169.03L294.04 169.49L294.33 169.94L294.62 170.39L294.91 170.83L295.21 171.26L295.50 171.67L295.79 172.07L296.08 172.46L296.37 172.82L296.62 173.10L296.67 173.16L296.96 173.49L297.25 173.82L297.54 174.14L297.83 174.46L298.13 174.77L298.42 175.08L298.71 175.39L299.00 175.69L299.29 175.98L299.59 176.28L299.88 176.57L300.17 176.85L300.46 177.13L300.75 177.41L301.05 177.69L301.34 177.96L301.63 178.22L301.92 178.48L302.21 178.74L302.51 179.00L302.80 179.25L303.09 179.50L303.38 179.74L303.67 179.98L303.97 180.22L304.26 180.45L304.55 180.68L304.84 180.91L305.13 181.13L305.43 181.35L305.72 181.57L306.01 181.78L306.30 181.99L306.59 182.20L306.89 182.40L307.18 182.60L307.47 182.80L307.76 182.99L308.05 183.18L308.13 183.23L308.35 183.37L308.64 183.56L308.93 183.74L309.22 183.92L309.51 184.09L309.81 184.26L310.10 184.43L310.39 184.60L310.68 184.76L310.97 184.92L311.27 185.08L311.56 185.23L311.85 185.39L312.14 185.54L312.43 185.69L312.73 185.83L313.02 185.98L313.31 186.12L313.60 186.27L313.89 186.41L314.19 186.55L314.48 186.69L314.77 186.83L315.06 186.97L315.35 187.10L315.65 187.24L315.94 187.37L316.23 187.51L316.52 187.65L316.81 187.78L317.11 187.92L317.40 188.05L317.69 188.19L317.98 188.32L318.16 188.41L318.27 188.46L318.57 188.60L318.86 188.73L319.15 188.87L319.44 189.00L319.73 189.14L320.03 189.27L320.32 189.40L320.61 189.53L320.90 189.66L321.19 189.79L321.49 189.92L321.78 190.05L322.07 190.17L322.36 190.30L322.65 190.42L322.95 190.54L323.24 190.66L323.53 190.79L323.82 190.90L324.11 191.02L324.41 191.14L324.70 191.26L324.97 191.36L324.99 191.37L325.28 191.48L325.57 191.60L325.87 191.71L326.16 191.83L326.45 191.95L326.74 192.06L327.03 192.18L327.33 192.29L327.62 192.41L327.91 192.53L328.20 192.64L328.49 192.75L328.79 192.87L329.08 192.98L329.37 193.09L329.66 193.20L329.95 193.30L330.25 193.41L330.54 193.51L330.83 193.61L331.12 193.71L331.41 193.80L331.71 193.90L332.00 193.99L332.29 194.07L332.58 194.16L332.87 194.24L333.17 194.31L333.46 194.39L333.75 194.45L333.97 194.50L334.04 194.52L334.33 194.58L334.63 194.64L334.92 194.71L335.21 194.77L335.50 194.83L335.79 194.89L336.09 194.94L336.38 195.00L336.67 195.06L336.96 195.12L337.25 195.17L337.55 195.23L337.84 195.28L338.13 195.34L338.42 195.39L338.71 195.44L339.01 195.49L339.30 195.55L339.59 195.60L339.88 195.65L340.17 195.70L340.47 195.74L340.76 195.79L341.05 195.84L341.34 195.89L341.63 195.94L341.93 195.98L342.22 196.03L342.51 196.07L342.80 196.12L343.10 196.16L343.39 196.21L343.68 196.25L343.97 196.29L344.26 196.34L344.56 196.38L344.85 196.42L345.14 196.46L345.43 196.50L345.72 196.54L346.02 196.58L346.31 196.62L346.60 196.66L346.89 196.70L347.18 196.74L347.48 196.78L347.77 196.81L348.06 196.85L348.35 196.89L348.64 196.93L348.94 196.96L349.23 197.00L349.52 197.04L349.81 197.07L350.10 197.11L350.40 197.14L350.69 197.18L350.98 197.22L351.27 197.25L351.56 197.29L351.86 197.32L352.15 197.35L352.44 197.39L352.73 197.42L353.02 197.46L353.32 197.49L353.61 197.52L353.90 197.56L354.19 197.59L354.48 197.63L354.78 197.66L355.07 197.69L355.36 197.73L355.65 197.76L355.94 197.79L356.24 197.83L356.53 197.86L356.82 197.89L357.11 197.92L357.40 197.96L357.70 197.99L357.99 198.02L358.28 198.06L358.57 198.09L358.86 198.12L359.16 198.16L359.45 198.19L359.74 198.23L360.03 198.26L360.32 198.29L360.62 198.33L360.91 198.36L361.11 198.38L361.20 198.40L361.49 198.43L361.78 198.46L362.08 198.50L362.37 198.53L362.66 198.57L362.95 198.60L363.24 198.63L363.54 198.67L363.83 198.70L364.12 198.73L364.41 198.77L364.70 198.80L365.00 198.83L365.29 198.86L365.58 198.90L365.87 198.93L366.16 198.96L366.46 198.99L366.75 199.03L367.04 199.06L367.33 199.09L367.62 199.12L367.92 199.15L368.21 199.18L368.50 199.22L368.79 199.25L369.08 199.28L369.38 199.31L369.67 199.34L369.96 199.37L370.25 199.40L370.54 199.43L370.84 199.46L371.13 199.49L371.42 199.52L371.71 199.55L372.00 199.58L372.30 199.61L372.59 199.64L372.88 199.67L373.17 199.70L373.46 199.73L373.76 199.76L374.05 199.79L374.34 199.81L374.63 199.84L374.92 199.87L375.22 199.90L375.51 199.93L375.80 199.95L376.09 199.98L376.38 200.01L376.68 200.04L376.97 200.06L377.26 200.09L377.55 200.12L377.84 200.15L378.14 200.17L378.43 200.20L378.72 200.23L379.01 200.25L379.30 200.28L379.60 200.30L379.89 200.33L380.18 200.36L380.47 200.38L380.76 200.41L381.06 200.43L381.35 200.46L381.64 200.48L381.93 200.51L382.22 200.53L382.52 200.55L382.81 200.58L383.10 200.60" stroke="#8c8c8c" stroke-width="2.1"/>
<path d="M61.60 146.83L62.31 146.76L63.03 146.69L63.74 146.62L64.45 146.55L65.16 146.48L65.88 146.41L66.59 146.33L67.30 146.26L68.02 146.18L68.73 146.11L69.44 146.03L70.15 145.95L70.87 145.87L71.58 145.79L72.29 145.70L73.01 145.62L73.72 145.54L74.43 145.45L75.14 145.36L75.86 145.27L76.57 145.18L77.28 145.09L78.00 145.00L78.71 144.91L79.42 144.82L79.60 144.79L80.13 144.72L80.85 144.63L81.56 144.53L82.27 144.43L82.99 144.33L83.70 144.23L84.41 144.13L85.12 144.02L85.84 143.92L86.55 143.81L87.26 143.70L87.98 143.59L88.69 143.48L89.40 143.37L90.11 143.26L90.83 143.15L91.54 143.03L92.25 142.91L92.97 142.80L93.68 142.68L94.39 142.56L95.10 142.44L95.82 142.32L96.53 142.19L97.24 142.07L97.96 141.95L98.67 141.82L99.38 141.69L100.09 141.57L100.81 141.44L101.52 141.31L102.23 141.18L102.95 141.05L103.66 140.91L104.37 140.78L105.08 140.65L105.80 140.51L106.51 140.38L106.61 140.36L107.22 140.24L107.94 140.10L108.65 139.97L109.36 139.83L110.07 139.69L110.79 139.55L111.50 139.41L112.21 139.26L112.93 139.12L113.64 138.97L114.35 138.83L115.06 138.68L115.78 138.53L116.49 138.38L117.20 138.23L117.92 138.07L118.63 137.92L119.34 137.76L120.05 137.60L120.77 137.44L121.48 137.28L122.19 137.11L122.91 136.94L123.62 136.77L124.33 136.60L125.04 136.43L125.76 136.25L126.47 136.07L127.18 135.89L127.90 135.70L128.61 135.51L129.32 135.32L130.03 135.13L130.75 134.93L131.46 134.73L131.62 134.68L132.17 134.53L132.89 134.31L133.60 134.09L134.31 133.87L135.02 133.64L135.74 133.40L136.45 133.15L137.16 132.90L137.88 132.65L138.59 132.39L139.30 132.12L140.01 131.86L140.73 131.59L141.44 131.31L142.15 131.03L142.87 130.75L143.58 130.47L144.29 130.19L145.00 129.90L145.72 129.61L146.43 129.33L147.14 129.04L147.86 128.75L148.57 128.46L149.28 128.18L149.99 127.89L150.71 127.60L151.42 127.32L152.13 127.04L152.85 126.76L153.29 126.59L153.56 126.49L154.27 126.21L154.98 125.94L155.70 125.67L156.41 125.41L157.12 125.14L157.84 124.88L158.55 124.61L159.26 124.35L159.97 124.09L160.69 123.82L161.40 123.56L162.11 123.29L162.83 123.02L163.54 122.76L164.25 122.48L164.96 122.21L165.68 121.93L166.39 121.66L167.10 121.37L167.82 121.09L168.53 120.80L169.24 120.50L169.95 120.20L170.67 119.90L171.38 119.59L172.09 119.27L172.81 118.95L173.52 118.62L174.23 118.29L174.94 117.94L175.03 117.90L175.66 117.59L176.37 117.23L177.08 116.87L177.80 116.49L178.51 116.11L179.22 115.72L179.93 115.32L180.65 114.91L181.36 114.50L182.07 114.08L182.79 113.65L183.50 113.21L184.21 112.76L184.92 112.31L185.64 111.85L186.35 111.39L187.06 110.91L187.78 110.44L188.49 109.95L189.20 109.46L189.91 108.96L190.20 108.76L190.63 108.45L191.34 107.92L192.05 107.37L192.77 106.81L193.48 106.23L194.19 105.64L194.90 105.03L195.62 104.41L196.33 103.79L197.04 103.16L197.76 102.53L198.47 101.89L199.18 101.25L199.89 100.61L200.61 99.98L201.32 99.35L202.03 98.73L202.75 98.12L203.06 97.85L203.46 97.52L204.17 96.94L204.88 96.37L205.60 95.82L206.31 95.27L207.02 94.72L207.74 94.16L208.45 93.59L209.16 93.01L209.87 92.41L210.59 91.78L211.30 91.13L212.01 90.43L212.70 89.72L212.73 89.70L213.44 88.91L214.15 88.07L214.86 87.18L215.58 86.24L216.29 85.26L217.00 84.25L217.72 83.20L218.43 82.12L219.14 81.02L219.85 79.90L220.57 78.77L221.28 77.63L221.99 76.48L222.71 75.34L223.42 74.19L224.13 73.06L224.85 71.95L225.18 71.43L225.56 70.84L226.27 69.71L226.98 68.56L227.70 67.40L228.41 66.22L229.12 65.03L229.84 63.84L230.55 62.65L231.26 61.46L231.97 60.28L232.69 59.12L233.40 57.97L234.11 56.84L234.83 55.75L235.21 55.16L235.54 54.67L236.25 53.58L236.96 52.48L237.68 51.37L238.39 50.26L239.10 49.15L239.82 48.07L240.53 47.01L241.24 45.99L241.95 45.00L242.67 44.07L243.38 43.20L244.09 42.39L244.81 41.65L245.18 41.30L245.52 40.99L246.23 40.36L246.94 39.75L247.66 39.17L248.37 38.65L249.08 38.18L249.80 37.78L250.51 37.47L250.64 37.42L251.22 37.22L251.93 36.98L252.65 36.77L253.36 36.61L254.07 36.52L254.50 36.50L254.79 36.51L255.50 36.61L256.21 36.81L256.92 37.08L257.64 37.39L257.71 37.42L258.35 37.82L259.06 38.49L259.78 39.33L260.29 40.01L260.49 40.31L261.20 41.63L261.91 43.26L262.60 45.00L262.63 45.07L263.34 47.08L264.05 49.35L264.77 51.82L265.48 54.44L266.19 57.14L266.90 59.87L267.62 62.55L267.62 62.56L268.33 65.26L269.04 68.04L269.76 70.87L270.47 73.74L271.18 76.60L271.41 77.53L271.89 79.40L272.61 82.09L273.32 84.95L273.92 87.69L274.03 88.26L274.75 92.35L275.46 97.05L276.17 102.09L276.88 107.15L277.60 111.94L277.65 112.27L278.31 116.47L279.02 120.99L279.74 125.50L280.45 129.96L281.16 134.36L281.87 138.68L282.59 142.90L283.30 146.99L284.01 150.93L284.14 151.63L284.73 154.75L285.44 158.54L286.15 162.26L286.86 165.92L287.58 169.48L288.29 172.93L289.00 176.25L289.72 179.43L290.43 182.45L291.09 185.08L291.14 185.29L291.85 188.00L292.57 190.61L293.28 193.11L293.99 195.48L294.71 197.68L295.42 199.71L295.97 201.16L296.13 201.55L296.84 203.23L297.56 204.81L298.27 206.28L298.98 207.66L299.70 208.95L300.41 210.17L300.80 210.80L301.12 211.33L301.83 212.46L302.55 213.55L303.26 214.58L303.97 215.53L304.69 216.38L305.40 217.11L305.62 217.31L306.11 217.73L306.82 218.31L307.54 218.86L308.25 219.37L308.96 219.84L309.68 220.27L310.39 220.64L311.10 220.96L311.81 221.21L312.11 221.30L312.53 221.41L313.24 221.60L313.95 221.78L314.67 221.94L315.38 222.09L316.09 222.21L316.80 222.31L317.52 222.37L318.23 222.41L318.48 222.41L318.94 222.41L319.66 222.40L320.37 222.38L321.08 222.35L321.79 222.32L322.51 222.28L323.22 222.24L323.93 222.19L324.65 222.14L325.36 222.08L325.87 222.04L326.07 222.02L326.78 221.93L327.50 221.79L328.21 221.61L328.92 221.41L329.64 221.18L330.35 220.93L331.06 220.66L331.77 220.39L332.49 220.11L333.20 219.84L333.91 219.57L334.63 219.32L335.34 219.08L335.97 218.90L336.05 218.87L336.76 218.68L337.48 218.49L338.19 218.30L338.90 218.12L339.62 217.94L340.33 217.76L341.04 217.58L341.75 217.41L342.47 217.23L343.18 217.06L343.89 216.89L344.61 216.72L345.32 216.55L346.03 216.38L346.74 216.21L347.46 216.03L348.17 215.86L348.57 215.76L348.88 215.68L349.60 215.50L350.31 215.32L351.02 215.14L351.73 214.96L352.45 214.79L353.16 214.61L353.87 214.43L354.59 214.25L355.30 214.07L356.01 213.89L356.72 213.71L357.44 213.53L358.15 213.36L358.86 213.18L359.58 213.00L360.29 212.82L361.00 212.64L361.11 212.61L361.71 212.46L362.43 212.28L363.14 212.11L363.85 211.93L364.57 211.75L365.28 211.57L365.99 211.39L366.70 211.21L367.42 211.03L368.13 210.85L368.84 210.67L369.56 210.50L370.27 210.32L370.98 210.14L371.69 209.97L372.41 209.79L373.12 209.62L373.71 209.47L373.83 209.44L374.55 209.27L375.26 209.10L375.97 208.93L376.68 208.76L377.40 208.59L378.11 208.42L378.82 208.25L379.54 208.08L380.25 207.92L380.96 207.75L381.67 207.59L382.39 207.42L383.10 207.26" stroke="#000000" stroke-width="2.2" stroke-dasharray="6.8 2.2"/>
<path d="M61.60 218.34L61.89 218.34L62.18 218.33L62.48 218.33L62.77 218.32L63.06 218.32L63.35 218.31L63.64 218.31L63.94 218.30L64.23 218.30L64.52 218.29L64.81 218.29L65.10 218.28L65.40 218.28L65.69 218.27L65.98 218.27L66.27 218.26L66.56 218.26L66.86 218.25L67.15 218.25L67.44 218.24L67.73 218.23L68.02 218.23L68.32 218.22L68.61 218.22L68.90 218.21L69.19 218.21L69.48 218.20L69.78 218.19L70.07 218.19L70.36 218.18L70.65 218.18L70.94 218.17L71.24 218.16L71.53 218.16L71.82 218.15L72.11 218.15L72.40 218.14L72.70 218.13L72.99 218.13L73.28 218.12L73.57 218.11L73.86 218.11L74.16 218.10L74.45 218.10L74.74 218.09L75.03 218.08L75.32 218.08L75.62 218.07L75.91 218.06L76.20 218.06L76.49 218.05L76.78 218.04L77.08 218.04L77.37 218.03L77.66 218.02L77.95 218.02L78.24 218.01L78.54 218.00L78.83 217.99L79.12 217.99L79.41 217.98L79.70 217.97L80.00 217.97L80.29 217.96L80.58 217.95L80.87 217.95L81.16 217.94L81.46 217.93L81.75 217.92L82.04 217.92L82.33 217.91L82.62 217.90L82.92 217.89L83.21 217.89L83.50 217.88L83.79 217.87L84.08 217.86L84.38 217.86L84.67 217.85L84.96 217.84L85.25 217.83L85.54 217.83L85.84 217.82L86.13 217.81L86.42 217.80L86.71 217.80L87.00 217.79L87.30 217.78L87.59 217.77L87.88 217.77L88.17 217.76L88.46 217.75L88.76 217.74L89.05 217.73L89.34 217.73L89.63 217.72L89.92 217.71L90.22 217.70L90.51 217.69L90.80 217.69L91.09 217.68L91.38 217.67L91.68 217.66L91.97 217.65L92.26 217.65L92.55 217.64L92.84 217.63L93.14 217.62L93.43 217.61L93.72 217.60L93.75 217.60L94.01 217.60L94.30 217.59L94.60 217.58L94.89 217.57L95.18 217.56L95.47 217.55L95.76 217.55L96.06 217.54L96.35 217.53L96.64 217.52L96.93 217.51L97.22 217.50L97.52 217.50L97.81 217.49L98.10 217.48L98.39 217.47L98.68 217.46L98.98 217.45L99.27 217.44L99.56 217.43L99.85 217.42L100.14 217.42L100.44 217.41L100.73 217.40L101.02 217.39L101.31 217.38L101.60 217.37L101.90 217.36L102.19 217.35L102.48 217.34L102.77 217.33L103.07 217.32L103.36 217.31L103.65 217.30L103.94 217.30L104.23 217.29L104.53 217.28L104.82 217.27L105.11 217.26L105.40 217.25L105.69 217.24L105.99 217.23L106.28 217.22L106.57 217.21L106.86 217.20L107.15 217.19L107.45 217.18L107.74 217.17L108.03 217.16L108.32 217.15L108.61 217.14L108.91 217.13L109.20 217.12L109.49 217.11L109.78 217.10L110.07 217.09L110.37 217.07L110.66 217.06L110.95 217.05L111.24 217.04L111.53 217.03L111.83 217.02L112.12 217.01L112.41 217.00L112.70 216.99L112.99 216.98L113.29 216.97L113.58 216.96L113.87 216.94L114.16 216.93L114.45 216.92L114.75 216.91L115.04 216.90L115.33 216.89L115.62 216.88L115.91 216.87L116.21 216.85L116.50 216.84L116.79 216.83L117.08 216.82L117.37 216.81L117.67 216.79L117.96 216.78L118.25 216.77L118.54 216.76L118.83 216.75L119.13 216.73L119.42 216.72L119.71 216.71L120.00 216.70L120.29 216.68L120.59 216.67L120.88 216.66L121.17 216.65L121.46 216.63L121.75 216.62L122.05 216.61L122.34 216.60L122.63 216.58L122.92 216.57L123.21 216.56L123.51 216.54L123.80 216.53L124.09 216.52L124.38 216.50L124.67 216.49L124.97 216.48L125.26 216.46L125.55 216.45L125.84 216.44L126.13 216.42L126.43 216.41L126.54 216.40L126.72 216.39L127.01 216.38L127.30 216.37L127.59 216.35L127.89 216.34L128.18 216.32L128.47 216.31L128.76 216.29L129.05 216.28L129.35 216.26L129.64 216.25L129.93 216.23L130.22 216.22L130.51 216.20L130.81 216.18L131.10 216.17L131.39 216.15L131.68 216.13L131.97 216.12L132.27 216.10L132.56 216.08L132.85 216.07L133.14 216.05L133.43 216.03L133.73 216.01L134.02 216.00L134.31 215.98L134.60 215.96L134.89 215.94L135.19 215.92L135.48 215.90L135.77 215.88L136.06 215.86L136.35 215.84L136.65 215.82L136.94 215.80L137.23 215.78L137.52 215.76L137.81 215.74L138.11 215.72L138.40 215.70L138.69 215.68L138.98 215.65L139.27 215.63L139.57 215.61L139.86 215.59L140.05 215.57L140.15 215.56L140.44 215.54L140.73 215.52L141.03 215.49L141.32 215.47L141.61 215.44L141.90 215.42L142.19 215.39L142.49 215.37L142.78 215.34L143.07 215.31L143.36 215.29L143.65 215.26L143.95 215.23L144.24 215.21L144.53 215.18L144.82 215.15L145.11 215.12L145.41 215.09L145.70 215.06L145.99 215.03L146.28 215.00L146.57 214.97L146.87 214.94L147.16 214.91L147.45 214.88L147.74 214.84L148.03 214.81L148.33 214.78L148.62 214.74L148.91 214.71L149.20 214.68L149.49 214.64L149.79 214.61L150.08 214.57L150.37 214.54L150.66 214.50L150.95 214.46L151.25 214.43L151.54 214.39L151.83 214.35L152.12 214.31L152.41 214.27L152.71 214.23L153.00 214.20L153.29 214.16L153.58 214.11L153.87 214.07L154.17 214.03L154.46 213.99L154.75 213.95L155.03 213.91L155.04 213.91L155.33 213.86L155.63 213.82L155.92 213.78L156.21 213.73L156.50 213.69L156.79 213.64L157.09 213.59L157.38 213.55L157.67 213.50L157.96 213.45L158.25 213.40L158.55 213.35L158.84 213.30L159.13 213.25L159.42 213.19L159.71 213.14L160.01 213.08L160.30 213.02L160.59 212.96L160.88 212.90L161.17 212.84L161.47 212.78L161.76 212.71L162.05 212.65L162.34 212.58L162.63 212.51L162.93 212.44L163.22 212.36L163.51 212.29L163.80 212.21L164.09 212.13L164.39 212.05L164.68 211.97L164.97 211.88L164.99 211.88L165.26 211.79L165.55 211.70L165.85 211.60L166.14 211.50L166.43 211.39L166.72 211.27L167.01 211.15L167.31 211.03L167.60 210.90L167.89 210.77L168.18 210.63L168.47 210.49L168.77 210.35L169.06 210.20L169.35 210.04L169.64 209.88L169.93 209.72L170.23 209.56L170.52 209.39L170.81 209.21L171.10 209.04L171.39 208.85L171.69 208.67L171.98 208.48L172.27 208.29L172.56 208.10L172.85 207.90L173.15 207.70L173.44 207.49L173.73 207.28L174.02 207.07L174.31 206.86L174.61 206.65L174.90 206.43L175.03 206.33L175.19 206.20L175.48 205.98L175.77 205.74L176.07 205.50L176.36 205.25L176.65 204.99L176.94 204.72L177.23 204.44L177.53 204.16L177.82 203.87L178.11 203.57L178.40 203.26L178.69 202.94L178.99 202.61L179.28 202.27L179.57 201.92L179.86 201.56L180.15 201.19L180.45 200.81L180.74 200.42L181.03 200.02L181.32 199.61L181.61 199.18L181.91 198.75L182.20 198.30L182.49 197.84L182.61 197.65L182.78 197.36L183.08 196.85L183.37 196.30L183.66 195.71L183.95 195.08L184.24 194.43L184.54 193.74L184.83 193.03L185.12 192.28L185.41 191.52L185.70 190.73L186.00 189.92L186.29 189.09L186.58 188.24L186.87 187.38L187.16 186.50L187.46 185.61L187.63 185.08L187.75 184.71L188.04 183.83L188.33 182.94L188.62 182.04L188.92 181.10L189.21 180.13L189.50 179.10L189.79 177.99L190.08 176.80L190.38 175.51L190.67 174.10L190.96 172.57L191.16 171.40L191.25 170.87L191.54 168.78L191.84 166.25L192.13 163.35L192.42 160.14L192.71 156.69L193.00 153.05L193.30 149.29L193.48 146.89L193.59 145.40L193.88 140.86L194.09 137.36L194.17 136.00L194.46 130.88L194.70 126.50L194.76 125.47L195.05 119.73L195.31 114.29L195.34 113.71L195.63 107.38L195.92 100.83L195.92 100.82L196.22 94.03L196.51 87.11L196.53 86.49L196.80 80.13L197.09 73.18L197.14 71.95L197.38 66.42L197.68 59.93L197.76 58.27L197.97 53.97L198.26 48.55L198.37 46.85L198.55 44.07L198.84 40.33L198.98 39.20L199.14 38.18L199.43 36.76L199.59 36.50L199.72 36.68L200.01 38.07L200.20 39.31L200.30 40.18L200.60 43.93L200.81 47.24L200.89 48.50L201.18 54.01L201.42 59.02L201.47 60.11L201.76 66.73L202.03 73.07L202.06 73.65L202.35 80.73L202.64 87.86L202.64 87.92L202.93 94.90L203.22 101.79L203.25 102.47L203.52 108.44L203.81 114.85L203.86 116.04L204.10 120.93L204.39 126.71L204.47 128.29L204.68 132.16L204.98 137.29L205.09 139.14L205.27 141.99L205.56 146.38L205.70 148.61L205.85 151.47L206.14 157.68L206.44 164.40L206.73 170.94L207.02 176.61L207.30 180.64L207.31 180.73L207.60 183.65L207.90 186.16L208.19 188.31L208.48 190.20L208.77 191.89L208.91 192.66L209.06 193.47L209.36 194.98L209.65 196.42L209.94 197.80L210.23 199.12L210.52 200.37L210.82 201.56L211.11 202.68L211.40 203.73L211.69 204.72L211.98 205.64L212.28 206.49L212.57 207.28L212.70 207.62L212.86 208.00L213.15 208.71L213.44 209.39L213.74 210.06L214.03 210.70L214.32 211.32L214.61 211.91L214.90 212.49L215.20 213.03L215.49 213.54L215.78 214.03L216.07 214.48L216.36 214.91L216.66 215.29L216.95 215.65L217.24 215.96L217.53 216.24L217.72 216.40L217.82 216.49L218.12 216.71L218.41 216.94L218.70 217.15L218.99 217.36L219.28 217.57L219.58 217.76L219.87 217.95L220.16 218.14L220.45 218.31L220.74 218.48L221.04 218.64L221.33 218.80L221.62 218.95L221.91 219.09L222.20 219.22L222.50 219.34L222.79 219.46L223.08 219.57L223.37 219.67L223.66 219.76L223.96 219.84L224.25 219.92L224.54 219.98L224.83 220.04L225.12 220.09L225.18 220.10L225.42 220.13L225.71 220.18L226.00 220.22L226.29 220.26L226.58 220.30L226.88 220.33L227.17 220.37L227.46 220.41L227.75 220.44L228.04 220.48L228.34 220.51L228.63 220.54L228.92 220.58L229.21 220.61L229.50 220.64L229.80 220.66L230.09 220.69L230.38 220.72L230.67 220.74L230.96 220.76L231.26 220.78L231.55 220.80L231.84 220.82L232.13 220.84L232.42 220.86L232.72 220.87L233.01 220.88L233.30 220.89L233.59 220.90L233.88 220.91L234.18 220.92L234.47 220.92L234.76 220.93L235.05 220.93L235.21 220.93L235.34 220.93L235.64 220.93L235.93 220.93L236.22 220.93L236.51 220.93L236.80 220.93L237.10 220.93L237.39 220.93L237.68 220.93L237.97 220.93L238.26 220.93L238.56 220.93L238.85 220.93L239.14 220.93L239.43 220.93L239.72 220.93L240.02 220.93L240.31 220.93L240.60 220.93L240.89 220.93L241.18 220.93L241.48 220.93L241.77 220.93L242.06 220.93L242.35 220.93L242.64 220.93L242.94 220.93L243.23 220.93L243.52 220.93L243.81 220.93L244.10 220.93L244.40 220.93L244.69 220.93L244.98 220.93L245.27 220.93L245.56 220.93L245.86 220.93L246.15 220.93L246.44 220.93L246.73 220.93L247.02 220.93L247.32 220.93L247.61 220.93L247.90 220.93L248.19 220.93L248.48 220.93L248.78 220.93L249.07 220.93L249.36 220.93L249.65 220.93L249.94 220.93L250.24 220.93L250.53 220.93L250.82 220.93L251.11 220.93L251.40 220.93L251.70 220.93L251.99 220.93L252.28 220.93L252.57 220.93L252.86 220.93L253.16 220.93L253.45 220.93L253.74 220.93L254.03 220.93L254.32 220.93L254.62 220.93L254.91 220.93L255.20 220.93L255.49 220.93L255.78 220.93L256.08 220.93L256.37 220.93L256.66 220.93L256.95 220.93L257.24 220.93L257.54 220.93L257.83 220.93L258.12 220.93L258.41 220.93L258.70 220.93L259.00 220.93L259.29 220.93L259.58 220.93L259.87 220.93L260.16 220.93L260.46 220.93L260.75 220.93L261.04 220.93L261.33 220.93L261.62 220.93L261.92 220.93L262.21 220.93L262.50 220.93L262.79 220.93L263.09 220.93L263.38 220.93L263.67 220.93L263.96 220.93L264.25 220.93L264.55 220.93L264.84 220.93L265.13 220.93L265.42 220.93L265.71 220.93L266.01 220.93L266.30 220.93L266.59 220.93L266.88 220.93L267.17 220.93L267.47 220.93L267.76 220.93L268.05 220.93L268.34 220.93L268.63 220.93L268.93 220.93L269.22 220.93L269.51 220.93L269.80 220.93L270.09 220.93L270.39 220.93L270.68 220.93L270.97 220.93L271.26 220.93L271.55 220.93L271.85 220.93L272.14 220.93L272.43 220.93L272.72 220.93L273.01 220.93L273.31 220.93L273.60 220.93L273.89 220.93L274.18 220.93L274.47 220.93L274.77 220.93L275.06 220.93L275.35 220.93L275.64 220.93L275.93 220.93L276.23 220.93L276.52 220.93L276.81 220.93L277.10 220.93L277.39 220.93L277.69 220.93L277.98 220.93L278.27 220.93L278.56 220.93L278.85 220.93L279.15 220.93L279.44 220.93L279.73 220.93L280.02 220.93L280.31 220.93L280.61 220.93L280.90 220.93L281.19 220.93L281.48 220.93L281.77 220.93L282.07 220.93L282.36 220.93L282.65 220.93L282.94 220.93L283.23 220.93L283.53 220.93L283.82 220.93L284.11 220.93L284.40 220.93L284.69 220.93L284.99 220.93L285.28 220.93L285.57 220.93L285.86 220.93L286.15 220.93L286.45 220.93L286.65 220.93L286.74 220.93L287.03 220.93L287.32 220.93L287.61 220.93L287.91 220.93L288.20 220.93L288.49 220.93L288.78 220.93L289.07 220.93L289.37 220.93L289.66 220.93L289.95 220.93L290.24 220.93L290.53 220.93L290.83 220.93L291.12 220.93L291.41 220.93L291.70 220.93L291.99 220.93L292.29 220.93L292.58 220.93L292.87 220.93L293.16 220.93L293.45 220.93L293.75 220.93L294.04 220.93L294.33 220.93L294.62 220.93L294.91 220.93L295.21 220.93L295.50 220.93L295.79 220.93L296.08 220.93L296.37 220.93L296.67 220.93L296.96 220.93L297.25 220.93L297.54 220.93L297.83 220.93L298.13 220.93L298.42 220.93L298.71 220.93L299.00 220.93L299.29 220.93L299.59 220.93L299.88 220.93L300.17 220.93L300.46 220.93L300.75 220.93L301.05 220.93L301.34 220.93L301.63 220.93L301.92 220.93L302.21 220.93L302.51 220.93L302.80 220.93L303.09 220.93L303.38 220.93L303.67 220.93L303.97 220.93L304.26 220.93L304.55 220.93L304.84 220.93L305.13 220.93L305.43 220.93L305.72 220.93L306.01 220.93L306.30 220.93L306.59 220.93L306.89 220.93L307.18 220.93L307.47 220.93L307.76 220.93L308.05 220.93L308.35 220.93L308.64 220.93L308.93 220.93L309.22 220.93L309.51 220.93L309.81 220.93L310.10 220.93L310.39 220.93L310.68 220.93L310.97 220.93L311.27 220.93L311.56 220.93L311.85 220.93L312.14 220.93L312.43 220.93L312.73 220.93L313.02 220.93L313.31 220.93L313.60 220.93L313.89 220.93L314.19 220.93L314.48 220.93L314.77 220.93L315.06 220.93L315.35 220.93L315.65 220.93L315.94 220.93L316.23 220.93L316.52 220.93L316.81 220.93L317.11 220.93L317.40 220.93L317.69 220.93L317.98 220.93L318.27 220.93L318.57 220.93L318.86 220.93L319.15 220.93L319.44 220.93L319.73 220.93L320.03 220.93L320.32 220.93L320.61 220.93L320.90 220.93L321.19 220.93L321.49 220.93L321.78 220.93L322.07 220.93L322.36 220.93L322.65 220.93L322.95 220.93L323.24 220.93L323.53 220.93L323.82 220.93L324.11 220.93L324.41 220.93L324.70 220.93L324.99 220.93L325.28 220.93L325.57 220.93L325.87 220.93L326.16 220.93L326.45 220.93L326.74 220.93L327.03 220.93L327.33 220.93L327.62 220.93L327.91 220.93L328.20 220.93L328.49 220.93L328.79 220.93L329.08 220.93L329.37 220.93L329.66 220.93L329.95 220.93L330.25 220.93L330.54 220.93L330.83 220.93L331.12 220.93L331.41 220.93L331.71 220.93L332.00 220.93L332.29 220.93L332.58 220.93L332.87 220.93L333.17 220.93L333.46 220.93L333.75 220.93L334.04 220.93L334.33 220.93L334.63 220.93L334.92 220.93L335.21 220.93L335.50 220.93L335.79 220.93L336.09 220.93L336.38 220.93L336.67 220.93L336.96 220.93L337.25 220.93L337.55 220.93L337.84 220.93L338.13 220.93L338.42 220.93L338.71 220.93L339.01 220.93L339.30 220.93L339.59 220.93L339.88 220.93L340.17 220.93L340.47 220.93L340.76 220.93L341.05 220.93L341.34 220.93L341.63 220.93L341.93 220.93L342.22 220.93L342.51 220.93L342.80 220.93L343.10 220.93L343.39 220.93L343.68 220.93L343.97 220.93L344.26 220.93L344.56 220.93L344.85 220.93L345.14 220.93L345.43 220.93L345.72 220.93L346.02 220.93L346.31 220.93L346.60 220.93L346.89 220.93L347.18 220.93L347.48 220.93L347.77 220.93L348.06 220.93L348.35 220.93L348.64 220.93L348.94 220.93L349.23 220.93L349.52 220.93L349.81 220.93L350.10 220.93L350.40 220.93L350.69 220.93L350.98 220.93L351.27 220.93L351.56 220.93L351.86 220.93L352.15 220.93L352.44 220.93L352.73 220.93L353.02 220.93L353.32 220.93L353.61 220.93L353.90 220.93L354.19 220.93L354.48 220.93L354.78 220.93L355.07 220.93L355.36 220.93L355.65 220.93L355.94 220.93L356.24 220.93L356.53 220.93L356.82 220.93L357.11 220.93L357.40 220.93L357.70 220.93L357.99 220.93L358.28 220.93L358.57 220.93L358.86 220.93L359.16 220.93L359.45 220.93L359.74 220.93L360.03 220.93L360.32 220.93L360.62 220.93L360.91 220.93L361.20 220.93L361.49 220.93L361.78 220.93L362.08 220.93L362.37 220.93L362.66 220.93L362.95 220.93L363.24 220.93L363.54 220.93L363.83 220.93L364.12 220.93L364.41 220.93L364.70 220.93L365.00 220.93L365.29 220.93L365.58 220.93L365.87 220.93L366.16 220.93L366.46 220.93L366.75 220.93L367.04 220.93L367.33 220.93L367.62 220.93L367.92 220.93L368.21 220.93L368.50 220.93L368.79 220.93L369.08 220.93L369.38 220.93L369.67 220.93L369.96 220.93L370.25 220.93L370.54 220.93L370.84 220.93L371.13 220.93L371.42 220.93L371.71 220.93L372.00 220.93L372.30 220.93L372.59 220.93L372.88 220.93L373.17 220.93L373.46 220.93L373.76 220.93L374.05 220.93L374.34 220.93L374.63 220.93L374.92 220.93L375.22 220.93L375.51 220.93L375.80 220.93L376.09 220.93L376.38 220.93L376.68 220.93L376.97 220.93L377.26 220.93L377.55 220.93L377.84 220.93L378.14 220.93L378.43 220.93L378.72 220.93L379.01 220.93L379.30 220.93L379.60 220.93L379.89 220.93L380.18 220.93L380.47 220.93L380.76 220.93L381.06 220.93L381.35 220.93L381.64 220.93L381.93 220.93L382.22 220.93L382.52 220.93L382.81 220.93L383.10 220.93" stroke="#000000" stroke-width="2.2" stroke-dasharray="6.8 2.2"/>
<path d="M61.60 37.42L62.31 37.41L63.02 37.40L63.74 37.39L64.45 37.38L65.16 37.37L65.87 37.36L66.59 37.35L67.30 37.35L68.01 37.34L68.72 37.33L69.44 37.32L70.15 37.31L70.86 37.30L71.57 37.29L72.29 37.28L73.00 37.27L73.71 37.26L74.42 37.26L75.14 37.25L75.85 37.24L76.56 37.23L77.27 37.22L77.99 37.21L78.70 37.21L79.41 37.20L80.12 37.19L80.84 37.18L81.55 37.18L82.26 37.17L82.97 37.16L83.69 37.15L84.40 37.15L85.11 37.14L85.82 37.13L86.54 37.12L87.25 37.12L87.96 37.11L88.67 37.10L89.39 37.10L90.10 37.09L90.81 37.08L91.52 37.08L92.24 37.07L92.95 37.06L93.66 37.06L93.75 37.05L94.37 37.05L95.09 37.04L95.80 37.04L96.51 37.03L97.22 37.02L97.94 37.02L98.65 37.01L99.36 37.01L100.07 37.00L100.79 37.00L101.50 36.99L102.21 36.99L102.92 36.99L103.64 36.98L104.35 36.98L105.06 36.97L105.77 36.97L106.48 36.97L107.20 36.96L107.91 36.96L108.62 36.95L109.33 36.95L110.05 36.95L110.76 36.94L111.47 36.94L112.18 36.94L112.90 36.93L113.61 36.93L114.32 36.93L115.03 36.92L115.75 36.92L116.46 36.92L117.17 36.91L117.88 36.91L118.60 36.91L119.31 36.90L120.02 36.90L120.73 36.90L121.45 36.89L122.16 36.89L122.87 36.89L123.58 36.88L124.30 36.88L125.01 36.87L125.72 36.87L125.90 36.87L126.43 36.87L127.15 36.86L127.86 36.86L128.57 36.85L129.28 36.85L130.00 36.84L130.71 36.84L131.42 36.83L132.13 36.83L132.85 36.82L133.56 36.82L134.27 36.81L134.98 36.81L135.70 36.80L136.41 36.79L137.12 36.79L137.83 36.78L138.55 36.78L139.26 36.77L139.97 36.77L140.68 36.76L141.40 36.76L142.11 36.75L142.82 36.75L143.53 36.74L144.25 36.74L144.96 36.73L145.67 36.73L146.38 36.72L147.10 36.72L147.81 36.71L148.52 36.71L149.23 36.71L149.94 36.70L150.66 36.70L151.37 36.70L152.08 36.70L152.79 36.69L153.51 36.69L154.22 36.69L154.93 36.69L155.64 36.69L156.36 36.69L157.07 36.68L157.78 36.68L158.05 36.68L158.49 36.69L159.21 36.69L159.92 36.69L160.63 36.69L161.34 36.70L162.06 36.70L162.77 36.71L163.48 36.71L164.19 36.72L164.91 36.72L165.62 36.73L166.33 36.73L167.04 36.74L167.76 36.74L168.47 36.75L169.18 36.75L169.89 36.75L170.61 36.75L171.32 36.75L172.03 36.75L172.74 36.75L173.46 36.74L174.17 36.74L174.88 36.73L175.59 36.72L176.31 36.70L177.02 36.69L177.73 36.67L178.44 36.65L179.16 36.64L179.87 36.62L180.58 36.61L181.29 36.59L182.01 36.58L182.72 36.57L183.43 36.56L184.14 36.55L184.86 36.54L185.57 36.53L186.28 36.52L186.99 36.51L187.71 36.51L188.42 36.50L189.13 36.50L189.84 36.50L190.20 36.50L190.56 36.50L191.27 36.50L191.98 36.50L192.69 36.50L193.41 36.50L194.12 36.50L194.83 36.50L195.54 36.50L196.25 36.50L196.97 36.50L197.68 36.50L198.39 36.50L199.10 36.50L199.82 36.50L200.53 36.50L201.24 36.50L201.95 36.50L202.67 36.50L203.06 36.50L203.38 36.50L204.09 36.50L204.80 36.51L205.52 36.52L206.23 36.53L206.94 36.54L207.65 36.55L208.37 36.57L209.08 36.59L209.79 36.60L210.50 36.62L211.22 36.64L211.93 36.66L212.64 36.68L212.70 36.68L213.35 36.70L214.07 36.73L214.78 36.75L215.49 36.78L216.20 36.82L216.92 36.85L217.63 36.89L218.34 36.93L219.05 36.97L219.77 37.01L220.48 37.06L221.19 37.11L221.90 37.16L222.62 37.22L223.33 37.28L224.04 37.34L224.75 37.40L224.99 37.42L225.47 37.47L226.18 37.55L226.89 37.64L227.60 37.74L228.32 37.85L229.03 37.98L229.74 38.11L230.45 38.25L231.17 38.40L231.88 38.56L232.59 38.73L233.30 38.90L234.02 39.09L234.70 39.27L234.73 39.28L235.44 39.50L236.15 39.74L236.87 40.02L237.58 40.32L238.29 40.65L239.00 40.99L239.71 41.36L240.43 41.75L241.14 42.14L241.85 42.55L242.56 42.97L243.28 43.40L243.99 43.83L244.40 44.08L244.70 44.26L245.41 44.70L246.13 45.16L246.84 45.63L247.55 46.13L248.26 46.64L248.98 47.17L249.69 47.71L250.40 48.28L251.11 48.87L251.83 49.48L252.54 50.11L253.25 50.77L253.96 51.45L253.99 51.47L254.68 52.16L255.39 52.90L256.10 53.69L256.81 54.51L257.53 55.38L258.24 56.28L258.95 57.23L259.66 58.21L260.38 59.25L261.09 60.32L261.80 61.45L262.09 61.91L262.51 62.63L263.23 63.91L263.94 65.31L264.65 66.79L265.36 68.36L266.08 70.01L266.79 71.73L267.30 73.00L267.50 73.52L268.21 75.36L268.93 77.31L269.64 79.40L270.35 81.67L271.06 84.16L271.41 85.47L271.78 86.95L272.49 90.23L273.20 93.94L273.91 97.98L274.63 102.26L275.34 106.69L276.05 111.17L276.76 115.62L277.48 119.93L277.91 122.43L278.19 124.03L278.90 127.95L279.61 131.78L280.33 135.61L281.04 139.51L281.75 143.57L282.46 147.86L283.17 152.47L283.24 152.92L283.89 157.71L284.60 163.68L285.31 169.96L286.02 176.14L286.74 181.80L287.10 184.34L287.45 186.59L288.16 190.84L288.87 194.75L289.48 197.90L289.59 198.46L290.30 202.01L291.01 205.36L291.72 208.46L291.90 209.20L292.44 211.35L293.15 214.12L293.86 216.58L294.40 218.10L294.57 218.54L295.29 220.10L296.00 221.30L296.71 219.99L297.43 218.47L298.14 216.77L298.85 214.91L299.19 214.00L299.57 212.88L300.28 210.50L301.00 207.89L301.71 205.22L302.40 202.71L302.42 202.64L303.14 200.19L303.85 197.78L304.57 195.35L305.28 192.82L305.60 191.65L305.99 190.16L306.71 187.36L307.42 184.46L308.14 181.46L308.17 181.32L308.85 178.34L309.56 175.10L310.28 171.80L310.74 169.67L310.99 168.53L311.71 165.23L312.42 161.92L313.13 158.66L313.32 157.85L313.85 155.47L314.56 152.31L315.28 149.21L315.89 146.64L315.99 146.21L316.70 143.29L317.42 140.45L318.13 137.70L318.46 136.46L318.85 135.04L319.56 132.46L320.27 129.97L320.99 127.55L321.03 127.41L321.70 125.22L322.42 122.97L323.13 120.82L323.60 119.45L323.84 118.78L324.56 116.83L325.27 114.97L325.98 113.19L326.18 112.73L326.70 111.49L327.41 109.87L328.13 108.30L328.75 106.99L328.84 106.80L329.55 105.34L330.27 103.94L330.98 102.57L331.32 101.94L331.70 101.24L332.41 99.96L333.12 98.74L333.84 97.58L333.89 97.50L334.55 96.47L335.27 95.42L335.98 94.40L336.46 93.74L336.69 93.43L337.41 92.49L338.12 91.58L338.84 90.70L339.04 90.46L339.55 89.84L340.26 89.00L340.98 88.17L341.61 87.45L341.69 87.35L342.41 86.54L343.12 85.73L343.83 84.92L344.18 84.53L344.55 84.11L345.26 83.30L345.98 82.51L346.69 81.74L346.75 81.68L347.40 81.00L348.12 80.28L348.83 79.57L349.32 79.10L349.54 78.89L350.26 78.23L350.97 77.59L351.69 76.97L351.90 76.80L352.40 76.38L353.11 75.80L353.83 75.25L354.47 74.77L354.54 74.71L355.26 74.19L355.97 73.69L356.68 73.19L357.04 72.95L357.40 72.72L358.11 72.25L358.83 71.80L359.54 71.37L359.61 71.33L360.25 70.95L360.97 70.54L361.68 70.15L362.18 69.89L362.40 69.78L363.11 69.42L363.82 69.07L364.54 68.73L364.76 68.63L365.25 68.41L365.97 68.10L366.68 67.80L367.33 67.53L367.39 67.50L368.11 67.22L368.82 66.95L369.54 66.69L369.90 66.56L370.25 66.43L370.96 66.19L371.68 65.95L372.39 65.72L372.47 65.70L373.10 65.51L373.82 65.30L374.53 65.09L375.04 64.95L375.25 64.90L375.96 64.70L376.67 64.52L377.39 64.34L377.62 64.28L378.10 64.16L378.82 63.99L379.53 63.83L380.19 63.67L380.24 63.66L380.96 63.50L381.67 63.35L382.39 63.19L382.76 63.11L383.10 63.04" stroke="#000000" stroke-width="2.2" stroke-dasharray="6.8 2.2"/>
<path d="M61.60 210.21L61.89 210.22L62.18 210.22L62.48 210.23L62.77 210.23L63.06 210.24L63.35 210.24L63.64 210.25L63.94 210.25L64.23 210.26L64.52 210.26L64.81 210.27L65.10 210.27L65.40 210.28L65.69 210.28L65.98 210.29L66.27 210.29L66.56 210.30L66.86 210.30L67.15 210.31L67.44 210.31L67.73 210.32L68.02 210.32L68.32 210.33L68.61 210.34L68.90 210.34L69.19 210.35L69.48 210.35L69.78 210.36L70.07 210.36L70.36 210.37L70.65 210.38L70.94 210.38L71.24 210.39L71.53 210.39L71.82 210.40L72.11 210.40L72.40 210.41L72.70 210.42L72.99 210.42L73.28 210.43L73.57 210.43L73.86 210.44L74.16 210.45L74.45 210.45L74.74 210.46L75.03 210.46L75.32 210.47L75.62 210.48L75.91 210.48L76.20 210.49L76.49 210.50L76.78 210.50L77.08 210.51L77.37 210.52L77.66 210.52L77.95 210.53L78.24 210.53L78.54 210.54L78.83 210.55L79.12 210.55L79.41 210.56L79.70 210.57L80.00 210.57L80.29 210.58L80.58 210.59L80.87 210.59L81.16 210.60L81.46 210.61L81.75 210.61L82.04 210.62L82.33 210.63L82.62 210.63L82.92 210.64L83.21 210.65L83.50 210.66L83.79 210.66L84.08 210.67L84.38 210.68L84.67 210.68L84.96 210.69L85.25 210.70L85.54 210.71L85.84 210.71L86.13 210.72L86.42 210.73L86.71 210.73L87.00 210.74L87.30 210.75L87.59 210.76L87.88 210.76L88.17 210.77L88.46 210.78L88.76 210.79L89.05 210.79L89.34 210.80L89.63 210.81L89.92 210.82L90.22 210.82L90.51 210.83L90.80 210.84L91.09 210.85L91.38 210.85L91.68 210.86L91.97 210.87L92.26 210.88L92.55 210.88L92.84 210.89L93.14 210.90L93.43 210.91L93.72 210.91L94.01 210.92L94.30 210.93L94.60 210.94L94.89 210.95L95.18 210.95L95.47 210.96L95.76 210.97L96.06 210.98L96.35 210.99L96.64 210.99L96.93 211.00L97.22 211.01L97.52 211.02L97.81 211.03L98.10 211.03L98.39 211.04L98.68 211.05L98.98 211.06L99.27 211.07L99.56 211.07L99.85 211.08L100.14 211.09L100.44 211.10L100.73 211.11L101.02 211.12L101.31 211.12L101.60 211.13L101.90 211.14L102.19 211.15L102.48 211.16L102.77 211.17L103.07 211.17L103.36 211.18L103.65 211.19L103.94 211.20L104.23 211.21L104.53 211.22L104.82 211.22L105.11 211.23L105.40 211.24L105.69 211.25L105.99 211.26L106.28 211.27L106.57 211.28L106.86 211.28L107.15 211.29L107.45 211.30L107.74 211.31L108.03 211.32L108.32 211.33L108.61 211.34L108.91 211.35L109.20 211.35L109.49 211.36L109.78 211.37L110.07 211.38L110.37 211.39L110.66 211.40L110.95 211.41L111.24 211.42L111.53 211.42L111.83 211.43L112.12 211.44L112.41 211.45L112.70 211.46L112.99 211.47L113.29 211.48L113.58 211.49L113.87 211.50L114.16 211.50L114.45 211.51L114.75 211.52L115.04 211.53L115.33 211.54L115.62 211.55L115.91 211.56L116.21 211.57L116.50 211.58L116.79 211.59L117.08 211.60L117.37 211.60L117.67 211.61L117.96 211.62L118.25 211.63L118.54 211.64L118.83 211.65L119.13 211.66L119.42 211.67L119.71 211.68L120.00 211.69L120.29 211.70L120.59 211.71L120.88 211.71L121.17 211.72L121.46 211.73L121.75 211.74L122.05 211.75L122.34 211.76L122.63 211.77L122.92 211.78L123.21 211.79L123.51 211.80L123.80 211.81L124.09 211.82L124.38 211.83L124.67 211.84L124.97 211.85L125.26 211.85L125.55 211.86L125.84 211.87L125.90 211.88L126.13 211.88L126.43 211.89L126.72 211.90L127.01 211.91L127.30 211.92L127.59 211.93L127.89 211.94L128.18 211.95L128.47 211.96L128.76 211.97L129.05 211.98L129.35 211.99L129.64 212.00L129.93 212.01L130.22 212.02L130.51 212.03L130.81 212.04L131.10 212.05L131.39 212.06L131.68 212.07L131.97 212.08L132.27 212.09L132.56 212.10L132.85 212.11L133.14 212.12L133.43 212.13L133.73 212.14L134.02 212.15L134.31 212.16L134.60 212.17L134.89 212.18L135.19 212.19L135.48 212.20L135.77 212.21L136.06 212.22L136.35 212.23L136.65 212.24L136.94 212.25L137.23 212.26L137.52 212.27L137.81 212.28L138.11 212.29L138.40 212.31L138.69 212.32L138.98 212.33L139.27 212.34L139.57 212.35L139.86 212.36L140.15 212.37L140.44 212.38L140.73 212.39L141.03 212.40L141.32 212.42L141.61 212.43L141.90 212.44L142.19 212.45L142.49 212.46L142.78 212.47L143.07 212.48L143.36 212.50L143.65 212.51L143.95 212.52L144.24 212.53L144.53 212.54L144.82 212.56L145.11 212.57L145.41 212.58L145.70 212.59L145.99 212.60L146.28 212.62L146.57 212.63L146.87 212.64L147.16 212.65L147.45 212.67L147.74 212.68L148.03 212.69L148.33 212.70L148.62 212.72L148.91 212.73L149.20 212.74L149.49 212.76L149.79 212.77L150.08 212.78L150.37 212.79L150.66 212.81L150.95 212.82L151.25 212.83L151.54 212.85L151.83 212.86L152.12 212.88L152.41 212.89L152.71 212.90L153.00 212.92L153.29 212.93L153.58 212.94L153.87 212.96L154.17 212.97L154.46 212.99L154.75 213.00L155.04 213.02L155.33 213.03L155.63 213.04L155.92 213.06L156.21 213.07L156.50 213.09L156.79 213.10L157.09 213.12L157.38 213.13L157.67 213.15L157.96 213.16L158.05 213.17L158.25 213.18L158.55 213.19L158.84 213.21L159.13 213.23L159.42 213.24L159.71 213.26L160.01 213.27L160.30 213.29L160.59 213.31L160.88 213.32L161.17 213.34L161.47 213.35L161.76 213.37L162.05 213.39L162.34 213.40L162.63 213.42L162.93 213.44L163.22 213.45L163.51 213.47L163.80 213.49L164.09 213.51L164.39 213.52L164.68 213.54L164.97 213.56L165.26 213.58L165.55 213.59L165.85 213.61L166.14 213.63L166.43 213.65L166.72 213.67L167.01 213.68L167.31 213.70L167.60 213.72L167.89 213.74L168.18 213.76L168.47 213.78L168.77 213.80L169.06 213.82L169.35 213.83L169.64 213.85L169.93 213.87L170.23 213.89L170.52 213.91L170.81 213.93L171.10 213.95L171.39 213.97L171.69 213.99L171.98 214.01L172.27 214.03L172.56 214.05L172.85 214.08L173.15 214.10L173.44 214.12L173.73 214.14L174.02 214.16L174.31 214.18L174.61 214.20L174.90 214.22L175.19 214.25L175.48 214.27L175.77 214.29L176.07 214.31L176.36 214.34L176.65 214.36L176.94 214.38L177.23 214.40L177.53 214.43L177.82 214.45L178.11 214.47L178.40 214.50L178.69 214.52L178.99 214.54L179.28 214.57L179.57 214.59L179.86 214.62L180.15 214.64L180.45 214.66L180.74 214.69L181.03 214.71L181.32 214.74L181.61 214.76L181.91 214.79L182.20 214.81L182.49 214.84L182.78 214.86L183.08 214.89L183.37 214.92L183.66 214.94L183.95 214.97L184.24 215.00L184.54 215.02L184.83 215.05L185.12 215.08L185.41 215.10L185.70 215.13L186.00 215.16L186.29 215.19L186.58 215.21L186.87 215.24L187.16 215.27L187.46 215.30L187.75 215.33L188.04 215.35L188.33 215.38L188.62 215.41L188.92 215.44L189.21 215.47L189.50 215.50L189.79 215.53L190.08 215.56L190.20 215.57L190.38 215.59L190.67 215.62L190.96 215.65L191.25 215.68L191.54 215.72L191.84 215.75L192.13 215.79L192.42 215.82L192.71 215.86L193.00 215.89L193.30 215.93L193.59 215.97L193.88 216.01L194.17 216.04L194.46 216.08L194.76 216.12L195.05 216.17L195.34 216.21L195.63 216.25L195.92 216.29L196.22 216.33L196.51 216.38L196.80 216.42L197.09 216.46L197.38 216.51L197.68 216.55L197.97 216.60L198.26 216.64L198.55 216.69L198.84 216.74L199.14 216.78L199.43 216.83L199.72 216.88L200.01 216.93L200.30 216.97L200.60 217.02L200.89 217.07L201.18 217.12L201.47 217.17L201.76 217.22L202.06 217.27L202.35 217.32L202.64 217.37L202.93 217.42L203.22 217.47L203.52 217.52L203.81 217.57L204.10 217.62L204.39 217.67L204.68 217.72L204.98 217.77L205.27 217.82L205.56 217.87L205.85 217.93L206.14 217.98L206.44 218.03L206.73 218.08L207.02 218.13L207.31 218.18L207.60 218.23L207.90 218.28L208.19 218.33L208.48 218.38L208.77 218.43L209.06 218.48L209.36 218.53L209.65 218.58L209.94 218.63L210.23 218.68L210.52 218.73L210.82 218.78L211.11 218.83L211.40 218.88L211.69 218.93L211.98 218.97L212.28 219.02L212.57 219.07L212.86 219.12L213.15 219.16L213.44 219.21L213.74 219.25L214.03 219.30L214.32 219.35L214.61 219.39L214.90 219.43L215.02 219.45L215.20 219.48L215.49 219.52L215.78 219.57L216.07 219.62L216.36 219.67L216.66 219.72L216.95 219.78L217.24 219.83L217.53 219.88L217.82 219.94L218.12 220.00L218.41 220.05L218.70 220.11L218.99 220.16L219.28 220.22L219.58 220.28L219.87 220.33L220.16 220.39L220.45 220.45L220.74 220.50L221.04 220.56L221.33 220.61L221.62 220.66L221.91 220.71L222.20 220.76L222.50 220.81L222.79 220.86L223.08 220.90L223.37 220.95L223.66 220.99L223.96 221.03L224.25 221.07L224.54 221.10L224.83 221.14L225.12 221.17L225.42 221.19L225.71 221.22L226.00 221.24L226.29 221.26L226.58 221.27L226.88 221.29L227.17 221.29L227.46 221.30L227.69 221.30L227.75 221.30L228.04 221.30L228.34 221.30L228.63 221.30L228.92 221.29L229.21 221.29L229.50 221.28L229.80 221.28L230.09 221.27L230.38 221.27L230.67 221.26L230.96 221.25L231.26 221.24L231.55 221.23L231.84 221.22L232.13 221.20L232.42 221.19L232.72 221.18L233.01 221.16L233.30 221.15L233.59 221.13L233.88 221.11L234.18 221.10L234.47 221.08L234.76 221.06L235.05 221.04L235.34 221.02L235.64 220.99L235.93 220.97L236.22 220.95L236.51 220.92L236.80 220.90L237.10 220.87L237.39 220.84L237.68 220.81L237.97 220.79L238.26 220.76L238.56 220.72L238.85 220.69L239.14 220.66L239.43 220.63L239.72 220.59L240.00 220.56L240.02 220.56L240.31 220.51L240.60 220.44L240.89 220.36L241.18 220.25L241.48 220.13L241.77 219.98L242.06 219.83L242.35 219.66L242.64 219.47L242.94 219.27L243.23 219.06L243.52 218.84L243.81 218.61L244.10 218.37L244.40 218.13L244.69 217.87L244.98 217.62L245.27 217.35L245.56 217.09L245.86 216.82L246.15 216.55L246.30 216.40L246.44 216.27L246.73 216.00L247.02 215.73L247.32 215.45L247.61 215.16L247.90 214.85L248.19 214.53L248.48 214.18L248.78 213.81L249.07 213.40L249.36 212.96L249.65 212.49L249.94 211.97L250.24 211.40L250.53 210.78L250.82 210.11L251.11 209.38L251.28 208.92L251.40 208.54L251.70 207.20L251.99 205.37L252.28 203.13L252.57 200.58L252.86 197.82L253.16 194.95L253.45 192.07L253.74 189.26L253.79 188.78L254.03 186.44L254.32 183.37L254.62 180.18L254.91 177.00L255.10 175.01L255.20 173.96L255.49 171.11L255.78 168.35L256.08 165.54L256.37 162.57L256.66 159.32L256.69 159.02L256.95 155.65L257.24 151.54L257.54 147.09L257.83 142.41L258.12 137.59L258.41 132.74L258.70 127.96L259.00 123.34L259.29 119.00L259.58 115.04L259.58 115.02L259.87 111.45L260.16 108.17L260.46 105.06L260.75 102.03L261.04 98.95L261.33 95.73L261.62 92.24L261.80 90.00L261.92 88.35L262.21 83.88L262.50 78.98L262.79 73.85L263.09 68.73L263.38 63.82L263.67 59.35L263.80 57.57L263.96 55.36L264.25 51.38L264.55 47.66L264.84 44.55L265.11 42.51L265.13 42.40L265.42 40.80L265.71 39.35L266.01 38.10L266.30 37.16L266.59 36.61L266.78 36.50L266.88 36.52L267.17 36.79L267.47 37.34L267.76 38.10L268.05 39.01L268.34 40.02L268.63 41.07L268.65 41.12L268.93 42.25L269.22 43.71L269.51 45.47L269.80 47.55L270.09 49.94L270.10 49.99L270.39 53.34L270.68 57.99L270.97 63.10L271.26 67.88L271.41 69.95L271.55 71.72L271.85 75.24L272.14 78.57L272.43 81.68L272.72 84.54L273.01 87.12L273.08 87.69L273.31 89.45L273.60 91.65L273.89 93.74L274.18 95.73L274.47 97.62L274.77 99.44L275.06 101.19L275.35 102.89L275.64 104.53L275.93 106.14L276.23 107.73L276.52 109.30L276.81 110.87L277.10 112.44L277.39 114.04L277.58 115.10L277.69 115.66L277.98 117.26L278.27 118.81L278.56 120.34L278.85 121.85L279.15 123.34L279.44 124.81L279.73 126.29L280.02 127.77L280.31 129.25L280.61 130.76L280.90 132.28L280.99 132.78L281.19 133.85L281.48 135.48L281.77 137.15L282.07 138.83L282.36 140.52L282.65 142.17L282.94 143.77L283.23 145.29L283.53 146.71L283.76 147.75L283.82 148.01L284.11 149.23L284.40 150.40L284.69 151.50L284.99 152.55L285.28 153.53L285.57 154.43L285.69 154.77L285.86 155.27L286.15 156.06L286.45 156.81L286.74 157.53L287.03 158.20L287.32 158.84L287.61 159.45L287.91 160.02L288.00 160.21L288.20 160.57L288.49 161.09L288.78 161.59L289.07 162.07L289.37 162.53L289.66 162.97L289.95 163.40L290.24 163.83L290.53 164.24L290.83 164.65L291.12 165.07L291.41 165.48L291.70 165.90L291.99 166.32L292.18 166.60L292.29 166.76L292.58 167.20L292.87 167.66L293.16 168.11L293.45 168.57L293.75 169.03L294.04 169.49L294.33 169.94L294.62 170.39L294.91 170.83L295.21 171.26L295.50 171.67L295.79 172.07L296.08 172.46L296.37 172.82L296.62 173.10L296.67 173.16L296.96 173.49L297.25 173.82L297.54 174.14L297.83 174.46L298.13 174.77L298.42 175.08L298.71 175.39L299.00 175.69L299.29 175.98L299.59 176.28L299.88 176.57L300.17 176.85L300.46 177.13L300.75 177.41L301.05 177.69L301.34 177.96L301.63 178.22L301.92 178.48L302.21 178.74L302.51 179.00L302.80 179.25L303.09 179.50L303.38 179.74L303.67 179.98L303.97 180.22L304.26 180.45L304.55 180.68L304.84 180.91L305.13 181.13L305.43 181.35L305.72 181.57L306.01 181.78L306.30 181.99L306.59 182.20L306.89 182.40L307.18 182.60L307.47 182.80L307.76 182.99L308.05 183.18L308.13 183.23L308.35 183.37L308.64 183.56L308.93 183.74L309.22 183.92L309.51 184.10L309.81 184.28L310.10 184.45L310.39 184.62L310.68 184.79L310.97 184.96L311.27 185.13L311.56 185.29L311.85 185.45L312.14 185.61L312.43 185.77L312.73 185.92L313.02 186.07L313.31 186.22L313.60 186.37L313.89 186.52L314.19 186.66L314.48 186.80L314.77 186.94L315.06 187.08L315.35 187.21L315.65 187.34L315.94 187.48L316.23 187.60L316.52 187.73L316.81 187.86L317.11 187.98L317.40 188.10L317.69 188.22L317.98 188.34L318.16 188.41L318.27 188.45L318.57 188.56L318.86 188.67L319.15 188.78L319.44 188.88L319.73 188.98L320.03 189.08L320.32 189.18L320.61 189.27L320.90 189.36L321.19 189.46L321.49 189.55L321.78 189.64L322.07 189.73L322.36 189.81L322.65 189.90L322.95 189.99L323.24 190.08L323.53 190.17L323.82 190.26L324.11 190.35L324.41 190.44L324.70 190.53L324.97 190.62L324.99 190.63L325.28 190.73L325.57 190.82L325.87 190.93L326.16 191.03L326.45 191.13L326.74 191.24L327.03 191.35L327.33 191.45L327.62 191.56L327.91 191.67L328.20 191.78L328.49 191.89L328.79 191.99L329.08 192.10L329.37 192.21L329.66 192.31L329.95 192.42L330.25 192.52L330.54 192.62L330.83 192.72L331.12 192.81L331.41 192.91L331.71 193.00L332.00 193.08L332.29 193.17L332.58 193.25L332.87 193.33L333.17 193.40L333.46 193.47L333.75 193.53L333.97 193.58L334.04 193.59L334.33 193.65L334.63 193.71L334.92 193.77L335.21 193.82L335.50 193.88L335.79 193.93L336.09 193.98L336.38 194.04L336.67 194.09L336.96 194.14L337.25 194.19L337.55 194.24L337.84 194.29L338.13 194.34L338.42 194.39L338.71 194.44L339.01 194.48L339.30 194.53L339.59 194.58L339.88 194.62L340.17 194.67L340.47 194.71L340.76 194.76L341.05 194.80L341.34 194.84L341.63 194.89L341.93 194.93L342.22 194.97L342.51 195.01L342.80 195.05L343.10 195.09L343.39 195.13L343.68 195.17L343.97 195.21L344.26 195.25L344.56 195.28L344.85 195.32L345.14 195.36L345.43 195.40L345.72 195.43L346.02 195.47L346.31 195.50L346.60 195.54L346.89 195.57L347.18 195.61L347.48 195.64L347.77 195.68L348.06 195.71L348.35 195.74L348.64 195.78L348.94 195.81L349.23 195.84L349.52 195.88L349.81 195.91L350.10 195.94L350.40 195.97L350.69 196.00L350.98 196.04L351.27 196.07L351.56 196.10L351.86 196.13L352.15 196.16L352.44 196.19L352.73 196.22L353.02 196.25L353.32 196.28L353.61 196.31L353.90 196.34L354.19 196.37L354.48 196.40L354.78 196.43L355.07 196.46L355.36 196.49L355.65 196.52L355.94 196.55L356.24 196.58L356.53 196.61L356.82 196.64L357.11 196.67L357.40 196.70L357.70 196.73L357.99 196.76L358.28 196.79L358.57 196.82L358.86 196.85L359.16 196.88L359.45 196.92L359.74 196.95L360.03 196.98L360.32 197.01L360.62 197.04L360.91 197.07L361.11 197.09L361.20 197.10L361.49 197.13L361.78 197.16L362.08 197.19L362.37 197.23L362.66 197.26L362.95 197.29L363.24 197.32L363.54 197.35L363.83 197.38L364.12 197.41L364.41 197.44L364.70 197.47L365.00 197.50L365.29 197.53L365.58 197.56L365.87 197.59L366.16 197.62L366.46 197.65L366.75 197.68L367.04 197.71L367.33 197.73L367.62 197.76L367.92 197.79L368.21 197.82L368.50 197.85L368.79 197.88L369.08 197.91L369.38 197.93L369.67 197.96L369.96 197.99L370.25 198.02L370.54 198.05L370.84 198.07L371.13 198.10L371.42 198.13L371.71 198.16L372.00 198.18L372.30 198.21L372.59 198.24L372.88 198.27L373.17 198.29L373.46 198.32L373.76 198.35L374.05 198.37L374.34 198.40L374.63 198.42L374.92 198.45L375.22 198.48L375.51 198.50L375.80 198.53L376.09 198.55L376.38 198.58L376.68 198.60L376.97 198.63L377.26 198.65L377.55 198.68L377.84 198.70L378.14 198.73L378.43 198.75L378.72 198.78L379.01 198.80L379.30 198.82L379.60 198.85L379.89 198.87L380.18 198.90L380.47 198.92L380.76 198.94L381.06 198.97L381.35 198.99L381.64 199.01L381.93 199.03L382.22 199.06L382.52 199.08L382.81 199.10L383.10 199.12" stroke="#000000" stroke-width="2.2" stroke-dasharray="6.8 2.2"/>
</g>
<g fill="#ffffff">
<rect x="79.6" y="132.5" width="52.4" height="22.5"/>
<rect x="180" y="154.1" width="52" height="20.6"/>
<rect x="306.4" y="97.5" width="54" height="21.8"/>
<rect x="249" y="190.0" width="8" height="19.4"/>
</g>
<line x1="254.50" y1="188" x2="254.50" y2="210" stroke="#bdbdbd" stroke-width="0.9"/>
<g stroke="#666666" stroke-width="0.75" fill="none">
<rect x="55.5" y="25.4" width="333.60" height="206.30"/>
<line x1="61.60" y1="231.7" x2="61.60" y2="228.50"/>
<line x1="61.60" y1="25.4" x2="61.60" y2="28.60"/>
<line x1="74.46" y1="231.7" x2="74.46" y2="229.80"/>
<line x1="74.46" y1="25.4" x2="74.46" y2="27.30"/>
<line x1="87.32" y1="231.7" x2="87.32" y2="229.80"/>
<line x1="87.32" y1="25.4" x2="87.32" y2="27.30"/>
<line x1="100.18" y1="231.7" x2="100.18" y2="229.80"/>
<line x1="100.18" y1="25.4" x2="100.18" y2="27.30"/>
<line x1="113.04" y1="231.7" x2="113.04" y2="229.80"/>
<line x1="113.04" y1="25.4" x2="113.04" y2="27.30"/>
<line x1="125.90" y1="231.7" x2="125.90" y2="228.50"/>
<line x1="125.90" y1="25.4" x2="125.90" y2="28.60"/>
<line x1="138.76" y1="231.7" x2="138.76" y2="229.80"/>
<line x1="138.76" y1="25.4" x2="138.76" y2="27.30"/>
<line x1="151.62" y1="231.7" x2="151.62" y2="229.80"/>
<line x1="151.62" y1="25.4" x2="151.62" y2="27.30"/>
<line x1="164.48" y1="231.7" x2="164.48" y2="229.80"/>
<line x1="164.48" y1="25.4" x2="164.48" y2="27.30"/>
<line x1="177.34" y1="231.7" x2="177.34" y2="229.80"/>
<line x1="177.34" y1="25.4" x2="177.34" y2="27.30"/>
<line x1="190.20" y1="231.7" x2="190.20" y2="228.50"/>
<line x1="190.20" y1="25.4" x2="190.20" y2="28.60"/>
<line x1="203.06" y1="231.7" x2="203.06" y2="229.80"/>
<line x1="203.06" y1="25.4" x2="203.06" y2="27.30"/>
<line x1="215.92" y1="231.7" x2="215.92" y2="229.80"/>
<line x1="215.92" y1="25.4" x2="215.92" y2="27.30"/>
<line x1="228.78" y1="231.7" x2="228.78" y2="229.80"/>
<line x1="228.78" y1="25.4" x2="228.78" y2="27.30"/>
<line x1="241.64" y1="231.7" x2="241.64" y2="229.80"/>
<line x1="241.64" y1="25.4" x2="241.64" y2="27.30"/>
<line x1="254.50" y1="231.7" x2="254.50" y2="228.50"/>
<line x1="254.50" y1="25.4" x2="254.50" y2="28.60"/>
<line x1="267.36" y1="231.7" x2="267.36" y2="229.80"/>
<line x1="267.36" y1="25.4" x2="267.36" y2="27.30"/>
<line x1="280.22" y1="231.7" x2="280.22" y2="229.80"/>
<line x1="280.22" y1="25.4" x2="280.22" y2="27.30"/>
<line x1="293.08" y1="231.7" x2="293.08" y2="229.80"/>
<line x1="293.08" y1="25.4" x2="293.08" y2="27.30"/>
<line x1="305.94" y1="231.7" x2="305.94" y2="229.80"/>
<line x1="305.94" y1="25.4" x2="305.94" y2="27.30"/>
<line x1="318.80" y1="231.7" x2="318.80" y2="228.50"/>
<line x1="318.80" y1="25.4" x2="318.80" y2="28.60"/>
<line x1="331.66" y1="231.7" x2="331.66" y2="229.80"/>
<line x1="331.66" y1="25.4" x2="331.66" y2="27.30"/>
<line x1="344.52" y1="231.7" x2="344.52" y2="229.80"/>
<line x1="344.52" y1="25.4" x2="344.52" y2="27.30"/>
<line x1="357.38" y1="231.7" x2="357.38" y2="229.80"/>
<line x1="357.38" y1="25.4" x2="357.38" y2="27.30"/>
<line x1="370.24" y1="231.7" x2="370.24" y2="229.80"/>
<line x1="370.24" y1="25.4" x2="370.24" y2="27.30"/>
<line x1="383.10" y1="231.7" x2="383.10" y2="228.50"/>
<line x1="383.10" y1="25.4" x2="383.10" y2="28.60"/>
<line x1="55.5" y1="230.54" x2="57.40" y2="230.54"/>
<line x1="389.1" y1="230.54" x2="387.20" y2="230.54"/>
<line x1="55.5" y1="221.30" x2="58.70" y2="221.30"/>
<line x1="389.1" y1="221.30" x2="385.90" y2="221.30"/>
<line x1="55.5" y1="212.06" x2="57.40" y2="212.06"/>
<line x1="389.1" y1="212.06" x2="387.20" y2="212.06"/>
<line x1="55.5" y1="202.82" x2="57.40" y2="202.82"/>
<line x1="389.1" y1="202.82" x2="387.20" y2="202.82"/>
<line x1="55.5" y1="193.58" x2="57.40" y2="193.58"/>
<line x1="389.1" y1="193.58" x2="387.20" y2="193.58"/>
<line x1="55.5" y1="184.34" x2="58.70" y2="184.34"/>
<line x1="389.1" y1="184.34" x2="385.90" y2="184.34"/>
<line x1="55.5" y1="175.10" x2="57.40" y2="175.10"/>
<line x1="389.1" y1="175.10" x2="387.20" y2="175.10"/>
<line x1="55.5" y1="165.86" x2="57.40" y2="165.86"/>
<line x1="389.1" y1="165.86" x2="387.20" y2="165.86"/>
<line x1="55.5" y1="156.62" x2="57.40" y2="156.62"/>
<line x1="389.1" y1="156.62" x2="387.20" y2="156.62"/>
<line x1="55.5" y1="147.38" x2="58.70" y2="147.38"/>
<line x1="389.1" y1="147.38" x2="385.90" y2="147.38"/>
<line x1="55.5" y1="138.14" x2="57.40" y2="138.14"/>
<line x1="389.1" y1="138.14" x2="387.20" y2="138.14"/>
<line x1="55.5" y1="128.90" x2="57.40" y2="128.90"/>
<line x1="389.1" y1="128.90" x2="387.20" y2="128.90"/>
<line x1="55.5" y1="119.66" x2="57.40" y2="119.66"/>
<line x1="389.1" y1="119.66" x2="387.20" y2="119.66"/>
<line x1="55.5" y1="110.42" x2="58.70" y2="110.42"/>
<line x1="389.1" y1="110.42" x2="385.90" y2="110.42"/>
<line x1="55.5" y1="101.18" x2="57.40" y2="101.18"/>
<line x1="389.1" y1="101.18" x2="387.20" y2="101.18"/>
<line x1="55.5" y1="91.94" x2="57.40" y2="91.94"/>
<line x1="389.1" y1="91.94" x2="387.20" y2="91.94"/>
<line x1="55.5" y1="82.70" x2="57.40" y2="82.70"/>
<line x1="389.1" y1="82.70" x2="387.20" y2="82.70"/>
<line x1="55.5" y1="73.46" x2="58.70" y2="73.46"/>
<line x1="389.1" y1="73.46" x2="385.90" y2="73.46"/>
<line x1="55.5" y1="64.22" x2="57.40" y2="64.22"/>
<line x1="389.1" y1="64.22" x2="387.20" y2="64.22"/>
<line x1="55.5" y1="54.98" x2="57.40" y2="54.98"/>
<line x1="389.1" y1="54.98" x2="387.20" y2="54.98"/>
<line x1="55.5" y1="45.74" x2="57.40" y2="45.74"/>
<line x1="389.1" y1="45.74" x2="387.20" y2="45.74"/>
<line x1="55.5" y1="36.50" x2="58.70" y2="36.50"/>
<line x1="389.1" y1="36.50" x2="385.90" y2="36.50"/>
<line x1="55.5" y1="27.26" x2="57.40" y2="27.26"/>
<line x1="389.1" y1="27.26" x2="387.20" y2="27.26"/>
</g>
<g style="filter:opacity(1)">
<g font-family="'Liberation Sans', sans-serif" fill="#6e6e6e">
<text x="208.6" y="14.7" font-size="16">x=3</text>
<text x="52.0" y="227.05" font-size="16" text-anchor="end">0.0</text>
<text x="52.0" y="190.09" font-size="16" text-anchor="end">0.2</text>
<text x="52.0" y="153.13" font-size="16" text-anchor="end">0.4</text>
<text x="52.0" y="116.17" font-size="16" text-anchor="end">0.6</text>
<text x="52.0" y="79.21" font-size="16" text-anchor="end">0.8</text>
<text x="52.0" y="42.25" font-size="16" text-anchor="end">1.0</text>
<text x="61.40" y="250.4" font-size="16" text-anchor="middle">−3</text>
<text x="125.70" y="250.4" font-size="16" text-anchor="middle">−2</text>
<text x="190.00" y="250.4" font-size="16" text-anchor="middle">−1</text>
<text x="254.30" y="250.4" font-size="16" text-anchor="middle">0</text>
<text x="318.60" y="250.4" font-size="16" text-anchor="middle">1</text>
<text x="382.90" y="250.4" font-size="16" text-anchor="middle">2</text>
</g>
<text x="221.0" y="273.9" font-family="'Liberation Serif', serif" font-style="italic" font-size="17" fill="#6e6e6e" text-anchor="middle">ζ</text>
<g transform="translate(20.9,177.3) rotate(-90)" font-family="'Liberation Sans', sans-serif" fill="#6e6e6e" text-anchor="middle">
<rect x="0.28" y="-13.60" width="1.15" height="15.10"/>
<text x="7.20" y="0.00" font-size="16">a</text>
<text x="16.50" y="2.80" font-size="11">2</text>
<text x="20.50" y="2.80" font-size="11">,</text>
<text x="24.55" y="2.80" font-size="11">4</text>
<rect x="30.78" y="-13.60" width="1.15" height="15.10"/>
<text x="37.00" y="-10.40" font-size="11">2</text>
<text x="45.80" y="0.00" font-size="16">,</text>
<rect x="56.32" y="-13.60" width="1.15" height="15.10"/>
<text x="62.30" y="0.00" font-size="16" font-style="italic">b</text>
<text x="71.50" y="2.80" font-size="11">1</text>
<text x="74.90" y="2.80" font-size="11">,</text>
<text x="79.35" y="2.80" font-size="11">3</text>
<rect x="85.77" y="-13.60" width="1.15" height="15.10"/>
<text x="92.00" y="-10.40" font-size="11">2</text>
</g>
<text x="69.8" y="64.2" font-family="'Liberation Serif', serif" font-size="26.5" fill="#000000">b</text>
<g font-family="'Liberation Sans', sans-serif" fill="#151515" text-anchor="middle">
<rect x="86.35" y="138.30" width="1.3" height="16.4"/>
<rect x="118.75" y="138.30" width="1.3" height="16.4"/>
<text x="100.00" y="150.10" font-size="16" font-style="italic">a</text>
<text x="108.10" y="152.80" font-size="12">2</text>
<text x="128.50" y="143.20" font-size="12">2</text>
</g>
<g font-family="'Liberation Sans', sans-serif" fill="#151515" text-anchor="middle">
<rect x="184.75" y="158.10" width="1.3" height="16.4"/>
<rect x="217.15" y="158.10" width="1.3" height="16.4"/>
<text x="198.40" y="169.90" font-size="16" font-style="italic">a</text>
<text x="206.00" y="172.60" font-size="12">4</text>
<text x="226.70" y="163.00" font-size="12">2</text>
</g>
<g font-family="'Liberation Sans', sans-serif" fill="#151515" text-anchor="middle">
<rect x="227.95" y="192.90" width="1.3" height="16.4"/>
<rect x="260.35" y="192.90" width="1.3" height="16.4"/>
<text x="241.60" y="204.70" font-size="16" font-style="italic">b</text>
<text x="249.50" y="207.40" font-size="12">3</text>
<text x="269.40" y="197.80" font-size="12">2</text>
</g>
<g font-family="'Liberation Sans', sans-serif" fill="#151515" text-anchor="middle">
<rect x="314.65" y="101.40" width="1.3" height="16.4"/>
<rect x="347.05" y="101.40" width="1.3" height="16.4"/>
<text x="328.30" y="113.20" font-size="16" font-style="italic">b</text>
<text x="336.40" y="115.90" font-size="12">1</text>
<text x="356.80" y="106.30" font-size="12">2</text>
</g>
</g>
</svg>
</body>
</html>
